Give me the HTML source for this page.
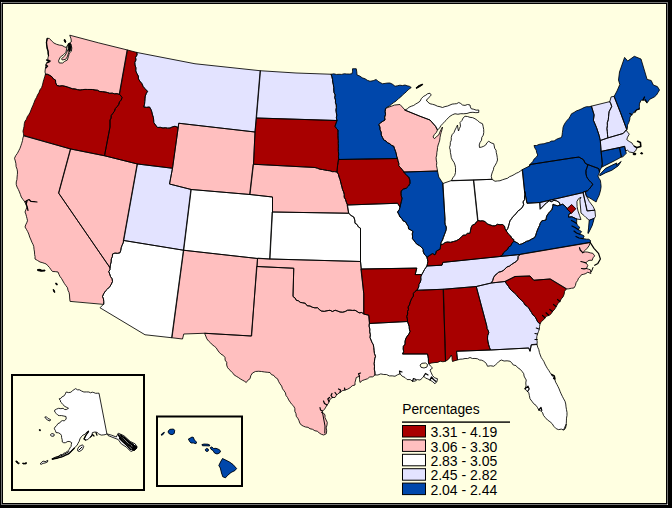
<!DOCTYPE html>
<html><head><meta charset="utf-8"><title>Percentages by state</title>
<style>
html,body{margin:0;padding:0;background:#000;}
body{width:672px;height:508px;overflow:hidden;position:relative;font-family:"Liberation Sans",sans-serif;}
svg{position:absolute;left:0;top:0;display:block;}
.lg{position:absolute;font-size:14px;line-height:14px;color:#000;white-space:nowrap;}
</style></head><body>
<svg width="672" height="508" viewBox="0 0 672 508">
<rect x="0" y="0" width="672" height="508" fill="#000"/>
<rect x="1" y="2" width="667" height="503" fill="#757575"/>
<rect x="1" y="2" width="1" height="1" fill="#cfcfcf"/><rect x="667" y="504" width="1" height="1" fill="#cfcfcf"/>
<rect x="2" y="3" width="665" height="501" fill="#000"/>
<rect x="3" y="4" width="663" height="499" fill="#FFFFE1"/>
<g>
<g stroke="none">
<polygon fill="#FFBFBF" points="45.5,74 45,72.03 45.2,70 45.6,67.2 46.27,65.15 46.4,63 49.5,62.2 50.5,60.8 47.7,59.7 48.03,57.59 48.5,55.5 48.04,53.42 48.1,51.3 47.07,48.9 46.8,46.3 46.43,44.27 46.4,42.2 47.25,38.4 49.3,38.4 50.79,39.98 52.29,41.54 53.9,43 56.51,44.28 59.3,45.1 61.98,45.39 64.3,46.75 66.4,47.6 67.5,45.5 69.3,43 71.4,41.75 71,38.8 69.75,35.2 98.75,42.9 127.5,50 119.5,94.5 117.16,93.64 114.64,93.81 112.27,93.16 109.75,93.3 107.4,92.49 105,92 102.47,91.67 99.89,91.57 97.55,90.25 95,90 92.5,89.5 90,89.48 87.5,89.47 85,89.41 82.5,89.66 80,90 77.49,89.64 75.03,88.96 72.5,88.75 69.99,87.91 67.5,87 64.92,86.28 62.32,85.73 59.6,86.05 57,85.5 55.68,82.91 55.5,80 53.36,78.88 51.99,76.81 50,75.5 47.85,74.45"/>
<polygon fill="#A80000" points="23.75,135.5 23.42,133.37 23,131.25 23.54,128.76 24.08,126.27 24.31,123.71 25,121.25 26.49,119.2 27.27,116.74 28.75,114.69 30,112.5 31.03,109.98 32,107.44 33.17,104.98 34.12,102.43 35.08,99.88 36.46,97.51 37.5,95 38.98,92.62 39.91,89.96 41.54,87.65 42.5,85 43.08,82.2 43.86,79.46 44.73,76.75 45.5,74 47.85,74.45 50,75.5 51.99,76.81 53.36,78.88 55.5,80 55.68,82.91 57,85.5 59.6,86.05 62.32,85.73 64.92,86.28 67.5,87 69.99,87.91 72.5,88.75 75.03,88.96 77.49,89.64 80,90 82.5,89.66 85,89.41 87.5,89.47 90,89.48 92.5,89.5 95,90 97.55,90.25 99.89,91.57 102.47,91.67 105,92 107.4,92.49 109.75,93.3 112.27,93.16 114.64,93.81 117.16,93.64 119.5,94.5 120.99,95.8 122,97.5 121.25,100 119.51,101.79 118.85,104.23 117.5,106.25 115.42,108.47 114.36,111.38 112.5,113.75 111.22,115.65 111.13,118.04 110,120 110,127 104.5,155.75 70.75,149"/>
<polygon fill="#FFBFBF" points="70,301 69.67,298.01 69.5,295 69.07,292.52 67.98,290.22 67.5,287.75 65.86,285.59 64.3,283.38 62.95,281.03 61.64,278.66 60,276.5 58.93,274.28 58,272 55.26,271.63 52.5,271.5 50.94,269.63 49.55,267.6 47.9,265.8 46.25,264 44.19,263.26 42.12,262.55 40,262 37.52,260.47 35,259 35.05,256.65 34.6,254.34 34.5,252 34.03,249.26 33.75,246.5 32.96,244.28 31.86,242.19 31,240 29.71,237.06 28.75,234 27.66,231.58 26.37,229.27 25,227 25.7,224.87 26.7,222.84 27.5,220.75 27.02,218.52 26.45,216.32 25.86,214.12 25,212 25.97,209.49 27,207 25.93,204.53 25,202 23.03,199.57 21.25,197 20.38,194.45 19.42,191.93 18.34,189.46 17.05,187.08 16.25,184.5 16.25,181.98 16.95,179.52 17.08,177.01 17.36,174.51 17.5,172 17.09,169.21 16.08,166.55 15.92,163.7 15.3,160.96 14.5,158.25 15.71,155.66 17.4,153.33 18.71,150.8 20,148.25 20.9,145.74 21.74,143.22 22.47,140.66 22.92,138.03 23.75,135.5 70.75,149 58.75,193.25 110,267.75 109.95,269.82 108.75,271.5 109.69,274 110.51,276.54 112.11,278.8 112.5,281.5 111.25,284.28 109.68,286.84 107.5,289 105.33,291.16 103.71,293.69 102.5,296.5 103.47,298.91 103.75,301.43 103.75,304"/>
<polygon fill="#FFBFBF" points="70.75,149 104.5,155.75 137.5,164 123.75,240.5 123.14,242.99 122.05,245.34 121.21,247.76 120.78,250.31 120,252.75 117.53,253.34 114.92,253.12 112.5,254 112.36,256.62 111.25,259 111.19,261.97 110.39,264.83 110,267.75 58.75,193.25"/>
<polygon fill="#A80000" points="127.5,50 137,52.5 136.97,55.06 135.55,57.4 135.94,60.02 134.82,62.41 135,65 135.93,67.86 135.78,70.96 137,73.75 138.35,76.11 138.44,78.97 140,81.25 141.88,83.61 143.09,86.41 145,88.75 147.5,91.25 146.24,93.61 145.27,96.06 145,98.75 144.77,101.53 144.53,104.3 143.75,107 146.62,107.36 149.5,107 150.97,109.49 151.9,112.18 152.5,115 153.4,117.42 153.65,119.95 153.75,122.5 155.56,125.05 157.5,127.5 160.29,127.32 163,128 165.33,127.69 167.67,128.16 170,128 172.42,126.89 175,126.25 178.2,127.5 172.5,168.25 137.5,164 104.5,155.75 110,127 110,120 111.13,118.04 111.22,115.65 112.5,113.75 114.36,111.38 115.42,108.47 117.5,106.25 118.85,104.23 119.51,101.79 121.25,100 122,97.5 120.99,95.8 119.5,94.5"/>
<polygon fill="#E3E3FF" points="137,52.5 195,63.75 260.5,70.75 256.5,118 255,132 178.75,123.25 178.2,127.5 175,126.25 172.42,126.89 170,128 167.67,128.16 165.33,127.69 163,128 160.29,127.32 157.5,127.5 155.56,125.05 153.75,122.5 153.65,119.95 153.4,117.42 152.5,115 151.9,112.18 150.97,109.49 149.5,107 146.62,107.36 143.75,107 144.53,104.3 144.77,101.53 145,98.75 145.27,96.06 146.24,93.61 147.5,91.25 145,88.75 143.09,86.41 141.88,83.61 140,81.25 138.44,78.97 138.35,76.11 137,73.75 135.78,70.96 135.93,67.86 135,65 134.82,62.41 135.94,60.02 135.55,57.4 136.97,55.06"/>
<polygon fill="#E3E3FF" points="260.5,70.75 296,73 331.25,74.25 331.9,76.87 332.55,79.49 332.72,82.21 333.36,84.83 333.75,87.5 333.78,90.05 334.01,92.56 335.2,94.94 334.68,97.57 335.5,100 335.43,102.51 336.27,104.97 336.39,107.47 335.93,110.01 336.25,112.5 336.78,115.14 336.33,117.87 337,120.5 256.5,118"/>
<polygon fill="#A80000" points="256.5,118 337,120.5 336.01,123.38 335,126.25 336.27,128.31 338,130 337.97,132.68 337.96,135.37 338.05,138.05 338.33,140.73 338.28,143.41 338.4,146.09 338.32,148.78 338.39,151.46 338.63,154.14 338.44,156.82 338.75,159.5 337.5,166 337,172 334.66,171.62 332.25,171.64 330,170.75 327.47,170.5 324.98,170.06 322.5,169.5 319.91,169.24 317.5,168.25 315,167.5 253.5,164.25 255,132"/>
<polygon fill="#FFBFBF" points="178.2,127.5 178.75,123.25 255,132 253.5,164.25 250,194.5 191.25,189.5 169.5,184 172.5,168.25"/>
<polygon fill="#E3E3FF" points="137.5,164 172.5,168.25 169.5,184 191.25,189.5 183.75,250.25 123.75,240.5"/>
<polygon fill="#FFFFFF" points="191.25,189.5 250,194.5 272.5,197 272.5,212 270,259 257.5,258.5 183.75,250.25"/>
<polygon fill="#FFFFFF" points="123.75,240.5 183.75,250.25 172,337.75 145,334.75 100,307.75 103.75,304 103.75,301.43 103.47,298.91 102.5,296.5 103.71,293.69 105.33,291.16 107.5,289 109.68,286.84 111.25,284.28 112.5,281.5 112.11,278.8 110.51,276.54 109.69,274 108.75,271.5 109.95,269.82 110,267.75 110.39,264.83 111.19,261.97 111.25,259 112.36,256.62 112.5,254 114.92,253.12 117.53,253.34 120,252.75 120.78,250.31 121.21,247.76 122.05,245.34 123.14,242.99"/>
<polygon fill="#FFBFBF" points="183.75,250.25 257.5,258.5 257,266.5 251.25,336 204.5,333.25 183.75,334 182.5,339 172,337.75"/>
<polygon fill="#FFBFBF" points="257,266.5 293.75,268.25 293,296.5 295.09,297.97 296.25,300.25 298.44,300.81 300.24,302.35 302.5,302.75 305.25,303.26 307.14,305.74 310,306 312.35,307.24 314.85,307.83 317.5,307.75 319.29,309.47 321.25,311 324.22,311.36 327.1,310.74 330,310.25 332.36,311.5 335.15,310.25 337.59,311.02 340,312 342.68,312.21 345.16,311.52 347.5,310.25 350,310.15 352.5,310.45 355,310.25 357.07,311.46 359.07,312.85 361.79,312.53 363.75,314 368.75,315.25 369.5,323.5 369.15,326.32 369.84,329.09 369.71,331.9 370.38,334.68 370,337.5 371.01,339.97 372.03,342.44 373.35,344.8 373.75,347.5 374.08,350.47 374.43,353.43 375.5,356.25 374.73,358.7 374.47,361.2 374.16,363.69 374.5,366.25 374.33,369.19 374.89,372.08 375,375 372.77,376.8 369.74,376.98 367.5,378.75 364.82,379.65 362.18,380.6 360,382.5 359.47,379.4 359.5,376.25 356.25,377.5 355.66,379.97 355.02,382.43 355,385 352.24,385.72 350.12,387.73 347.7,389.15 345,390 342.23,390.71 340,392.5 337.92,393.75 336.3,395.47 335,397.5 332.5,397.5 330.4,398.84 329.33,400.94 328.49,403.21 327,405 325.84,407.09 324.6,409.11 322.96,410.83 321.25,412.5 323.56,413.1 325,415 325,417.6 326.08,419.98 327.27,422.35 327,425 326.19,427.87 326.7,430.85 326.25,433.75 323.75,435 321.35,434.27 319.25,433.06 317.5,431.25 314.88,430.78 312.59,429.32 310,428.75 308.02,427.32 305.56,427.03 303.35,426.15 301.25,425 299.74,422.96 298.92,420.53 297.77,418.28 296.25,416.25 295.97,413.66 294.84,411.29 294.86,408.63 293.75,406.25 291.77,404.36 290.22,402.16 288.7,399.95 287.5,397.5 285.97,395.47 285.45,392.87 284.01,390.79 282.5,388.75 281.63,386.06 279.93,383.78 278.55,381.35 277.5,378.75 275.36,377.51 273.87,375.48 271.43,374.6 270,372.5 267.18,372.25 264.37,371.95 261.57,371.52 258.75,371.25 255.45,371.49 252.5,373 250.79,375.67 250,378.75 247.81,380.31 246.25,382.5 244.32,381.14 242.24,380.02 240.21,378.82 238.29,377.44 236.25,376.25 234.1,374.9 232.64,372.86 230.9,371.1 229.08,369.42 227.5,367.5 226.69,365.05 226.74,362.38 225.12,360.13 225,357.5 223.31,355.44 220.93,354.07 219.09,352.16 217.5,350 216.2,347.8 214.29,346.21 212.25,344.75 210.64,342.86 208.75,341.25 206.84,338.85 205.74,336.01 204.5,333.25 251.25,336"/>
<polygon fill="#FFBFBF" points="270,259 360.5,261.5 361.25,269 363.75,294 363.75,314 361.79,312.53 359.07,312.85 357.07,311.46 355,310.25 352.5,310.45 350,310.15 347.5,310.25 345.16,311.52 342.68,312.21 340,312 337.59,311.02 335.15,310.25 332.36,311.5 330,310.25 327.1,310.74 324.22,311.36 321.25,311 319.29,309.47 317.5,307.75 314.85,307.83 312.35,307.24 310,306 307.14,305.74 305.25,303.26 302.5,302.75 300.24,302.35 298.44,300.81 296.25,300.25 295.09,297.97 293,296.5 293.75,268.25 257,266.5 257.5,258.5"/>
<polygon fill="#FFFFFF" points="272.5,212 348.75,213.25 350.99,215.48 353.75,217 354.77,220.05 355,223.25 357.14,224.58 358.37,226.91 360.5,228.25 360.5,261.5 270,259"/>
<polygon fill="#FFBFBF" points="253.5,164.25 315,167.5 317.5,168.25 319.91,169.24 322.5,169.5 324.98,170.06 327.47,170.5 330,170.75 332.25,171.64 334.66,171.62 337,172 338.41,174.33 339.05,176.98 340,179.5 340.65,181.99 341.25,184.5 341.95,186.98 342.5,189.5 343.62,191.89 344.24,194.43 344.19,197.17 345.5,199.5 346.36,202.3 347.5,205 348.75,213.25 272.5,212 272.5,197 250,194.5"/>
<polygon fill="#A80000" points="338.75,159.5 397.5,158.5 397.96,160.91 398.8,163.25 398.75,165.75 400.63,167.72 402.36,169.82 404,172 405.32,173.92 406.82,175.66 408.75,177 409.84,180.03 410,183.25 408.54,186.06 406.25,188.25 403.52,189.03 401.25,190.75 401.07,193.29 401.25,195.8 402,198.25 401.44,201.19 400.66,204.08 400,207 397.5,203.25 347.5,205 346.36,202.3 345.5,199.5 344.19,197.17 344.24,194.43 343.62,191.89 342.5,189.5 341.95,186.98 341.25,184.5 340.65,181.99 340,179.5 339.05,176.98 338.41,174.33 337,172 337.5,166"/>
<polygon fill="#FFFFFF" points="347.5,205 397.5,203.25 400,207 399.25,209.75 397.5,212 398.87,214.44 400,217 401.85,218.58 403.03,220.8 405.49,221.8 406.7,224 408.23,226.28 408.6,229 410.96,230.04 413,231.6 412.23,233.85 412.56,236.2 412.4,238.5 413.83,240.43 415.3,242.32 416.8,244.2 419.21,245.48 421.35,247.09 423.1,249.2 423.24,251.81 424.3,254.2 425.79,255.68 427,257.4 427.51,259.43 427.8,261.5 427.45,263.76 427,266 425.76,267.76 424.5,269.5 423.2,272.03 421.8,274.5 415.2,274.6 416.8,268.1 361.25,269 360.5,261.5 360.5,228.25 358.37,226.91 357.14,224.58 355,223.25 354.77,220.05 353.75,217 350.99,215.48 348.75,213.25"/>
<polygon fill="#A80000" points="361.25,269 416.8,268.1 415.2,274.6 421.8,274.5 420.76,276.9 420.95,279.6 420.33,282.1 418.94,284.4 418.7,287 417,290.25 415,291.5 413.36,293.47 413.4,296.18 411.89,298.2 410.85,300.43 410,302.75 409.44,304.96 408.12,306.95 408.49,309.42 407.5,311.5 407.67,314 406.76,316.5 407.36,319 407.5,321.5 369.5,323.5 368.75,315.25 363.75,314 363.75,294"/>
<polygon fill="#FFFFFF" points="369.5,323.5 407.5,321.5 408.34,323.95 409.16,326.4 409.33,329.01 410,331.5 408.89,334.07 407.09,336.3 405.7,338.72 405,341.5 405.05,344.11 403.35,346.37 403.2,348.94 403.65,351.63 402.5,354 427.5,354 427.97,356.42 428.42,358.84 428.41,361.32 428.75,363.75 430.44,366.04 432.5,368 430,370 431.24,372.75 432.5,375.5 434.59,377.76 437.5,378.75 436.88,381.57 435,383.75 432.64,381.69 430,380 427.8,378.95 425.49,378.08 423.75,376.25 422.08,378.33 420,380 417.37,379.62 415.04,381.08 412.5,381.25 410.22,379.57 407.08,379.58 405,377.5 402.1,376.16 400,373.75 397.42,374.84 395,376.25 392.18,375.87 389.29,375.9 386.62,374.56 383.75,374.5 380.79,373.9 377.92,374.97 375,375 374.89,372.08 374.33,369.19 374.5,366.25 374.16,363.69 374.47,361.2 374.73,358.7 375.5,356.25 374.43,353.43 374.08,350.47 373.75,347.5 373.35,344.8 372.03,342.44 371.01,339.97 370,337.5 370.38,334.68 369.71,331.9 369.84,329.09 369.15,326.32"/>
<polygon fill="#A80000" points="417,290.25 443.5,289.25 445,344 445.5,361.25 442.9,361.75 440.17,361.19 437.65,362.42 435,362.5 431.84,362.96 428.75,363.75 428.41,361.32 428.42,358.84 427.97,356.42 427.5,354 402.5,354 403.65,351.63 403.2,348.94 403.35,346.37 405.05,344.11 405,341.5 405.7,338.72 407.09,336.3 408.89,334.07 410,331.5 409.33,329.01 409.16,326.4 408.34,323.95 407.5,321.5 407.36,319 406.76,316.5 407.67,314 407.5,311.5 408.49,309.42 408.12,306.95 409.44,304.96 410,302.75 410.85,300.43 411.89,298.2 413.4,296.18 413.36,293.47 415,291.5"/>
<polygon fill="#A80000" points="443.5,289.25 476.25,286.5 486.25,324 486.81,326.21 487.05,328.5 488.24,330.53 488.75,332.75 487.64,335.78 487.5,339 488.03,341.81 488.6,344.61 489.48,347.32 490.5,350 456.5,351.25 457.5,360 454.96,360.63 452.5,361.5 452.09,359.33 452.04,357.1 451.25,355 449.5,358 447.72,359.9 445.5,361.25 445,344"/>
<polygon fill="#E3E3FF" points="427,266 442,265.2 442.9,262.4 500,256.5 520,254.5 518.14,256.51 517.88,259.37 516.25,261.5 513.93,262.9 511.66,264.37 509.54,266.05 506.89,266.96 505,269 503.2,270.57 501.09,271.64 498.61,272.12 496.93,273.88 495,275.25 493.5,277.71 492.71,280.52 491.25,283 476.25,286.5 443.5,289.25 417,290.25 418.7,287 418.94,284.4 420.33,282.1 420.95,279.6 420.76,276.9 421.8,274.5 423.2,272.03 424.5,269.5 425.76,267.76"/>
<polygon fill="#A80000" points="427,257.4 429.4,255.5 432.5,253.6 435,254.9 435.86,253.07 436.3,251.1 438.17,250.09 440.1,249.2 440.45,247.01 440.7,244.8 443.09,244.16 445.07,242.55 447.5,242 450.52,242.33 453.39,241.55 456.25,240.75 459,239.21 461.25,237 463.11,235.3 465.58,235.03 467.46,233.37 470,233.25 470.55,230.11 471.25,227 472.55,224.98 475.01,224.15 476.25,222.06 478,220.5 480.23,220.94 482.5,220.75 485.19,221.62 487.16,223.92 489.83,224.84 492.5,225.75 495.05,225.85 497.4,224.31 499.99,224.71 502.5,224.5 504.51,226.13 505.07,228.63 506.25,230.75 507.55,232.59 508.75,234.5 510.64,235.94 511.69,238.22 513.75,239.5 513.8,241.3 512.03,243.2 510.91,245.6 508.61,247.09 507.5,249.5 505.42,251.03 503.53,252.76 502.31,255.22 500,256.5 442.9,262.4 442,265.2 427,266 427.45,263.76 427.8,261.5 427.51,259.43"/>
<polygon fill="#0047AB" points="404,172 437.5,171 438.75,177 443,183.5 445,219.5 444.89,222.05 445.19,224.55 446.28,226.96 446.25,229.5 445.38,232.15 444.39,234.75 443.41,237.36 442.5,240 441.2,242.25 440.7,244.8 440.45,247.01 440.1,249.2 438.17,250.09 436.3,251.1 435.86,253.07 435,254.9 432.5,253.6 429.4,255.5 427,257.4 425.79,255.68 424.3,254.2 423.24,251.81 423.1,249.2 421.35,247.09 419.21,245.48 416.8,244.2 415.3,242.32 413.83,240.43 412.4,238.5 412.56,236.2 412.23,233.85 413,231.6 410.96,230.04 408.6,229 408.23,226.28 406.7,224 405.49,221.8 403.03,220.8 401.85,218.58 400,217 398.87,214.44 397.5,212 399.25,209.75 400,207 400.66,204.08 401.44,201.19 402,198.25 401.25,195.8 401.07,193.29 401.25,190.75 403.52,189.03 406.25,188.25 408.54,186.06 410,183.25 409.84,180.03 408.75,177 406.82,175.66 405.32,173.92"/>
<polygon fill="#FFFFFF" points="443,183.5 451.5,180.5 473.75,180 478,220.5 476.25,222.06 475.01,224.15 472.55,224.98 471.25,227 470.55,230.11 470,233.25 467.46,233.37 465.58,235.03 463.11,235.3 461.25,237 459,239.21 456.25,240.75 453.39,241.55 450.52,242.33 447.5,242 445.07,242.55 443.09,244.16 440.7,244.8 441.2,242.25 442.5,240 443.41,237.36 444.39,234.75 445.38,232.15 446.25,229.5 446.28,226.96 445.19,224.55 444.89,222.05 445,219.5"/>
<polygon fill="#FFFFFF" points="473.75,180 492,179.3 495,181.25 497.49,180.94 500,180.75 502.46,179.79 504.97,178.98 507.5,178.25 509.51,176.69 511.88,175.76 514.12,174.6 516.25,173.25 518.54,172.34 520.54,170.95 522.5,169.5 524.5,190.75 525.1,193.88 524.5,197 524.54,199.61 523.05,201.91 523.64,204.63 522.5,207 520.58,209.24 518.04,210.88 516.25,213.25 514.71,215.14 512.81,216.74 511.48,218.81 510,220.75 509.27,223.33 508.6,225.93 507.78,228.47 506.25,230.75 505.07,228.63 504.51,226.13 502.5,224.5 499.99,224.71 497.4,224.31 495.05,225.85 492.5,225.75 489.83,224.84 487.16,223.92 485.19,221.62 482.5,220.75 480.23,220.94 478,220.5"/>
<polygon fill="#FFFFFF" points="451.5,180.5 452.82,177.83 454.69,175.43 455.5,172.5 455.53,169.99 455.53,167.48 455,165 454.02,162.37 452.39,160.05 451.25,157.5 450.93,154.98 450.4,152.5 450.26,149.94 449.5,147.5 450.25,145.05 450.33,142.49 451.29,140.08 451.25,137.5 452.01,134.76 453.96,132.6 455,130 456.29,127.52 457.5,125 457.85,128.02 458.5,131 459.36,128.57 460.5,126.25 460,122.5 461.9,120.6 463.03,118.09 465,116.25 467.59,116.53 470.03,117.37 472.62,117.65 475,118.75 477.47,120.46 479.73,122.48 482.5,123.75 483.17,126.63 483.69,129.53 483.75,132.5 483.27,135.17 481.78,137.46 481.5,140.21 480,142.5 479.22,144.95 479.5,147.5 481.68,147.05 483.75,146.25 485.78,144.95 486.94,142.78 488.75,141.25 491.07,142.86 493.75,143.75 494.23,145.98 494.65,148.23 496.05,150.19 496.25,152.5 496.85,154.97 497.24,157.47 497.5,160 496.59,162.67 495.25,165.12 493.75,167.5 493.45,169.78 492.48,171.87 491.78,174.03 491.25,176.25 492,179.3 473.75,180"/>
<polygon fill="#FFFFFF" points="405,110 407.19,108.93 409.02,107.26 411.25,106.25 413.69,105.43 415.75,103.97 417.95,102.74 420,101.25 421.43,98.42 423.75,96.25 425.8,95.19 427.66,93.72 430,93.25 431.25,95 429.62,96.7 428.18,98.59 426.25,100 427.86,102.14 430,103.75 432.52,104.31 435,105 437.38,106.2 439.99,106.71 442.5,107.5 444.97,106.59 447.57,106.05 450,105 452.11,104.11 454.41,103.88 456.71,103.65 458.75,102.5 460.77,103.53 462.5,105 465,105.42 467.5,104.49 470,105 470.36,106.96 471.25,108.75 473.73,109.26 476.16,110.15 478.75,110 478.75,112.5 475.83,112.66 472.92,112.3 470,112.5 466.95,113.48 463.75,113.75 460.83,113.7 457.92,114.26 455,113.75 452.39,114.79 450,116.25 448.22,117.81 446.68,119.6 445,121.25 443.04,123.42 441,125.5 439.54,127.98 437.5,130 435.5,126.25 430,120 420,116.25"/>
<polygon fill="#FFBFBF" points="385.5,108.75 385.16,111.55 385.53,114.39 384.63,117.17 385,120 382.77,121.29 380.67,122.77 378.75,124.5 379.91,127 380.07,129.73 381.2,132.24 381.25,135 382.55,137.48 383.75,140 385.95,140.94 387.55,142.81 389.78,143.7 391.54,145.33 393.75,146.25 394.54,148.76 395.49,151.22 396.25,153.75 396.65,156.18 397.5,158.5 397.96,160.91 398.8,163.25 398.75,165.75 400.63,167.72 402.36,169.82 404,172 437.5,171 437.07,168.26 436.48,165.54 436.77,162.73 436.25,160 436.1,157.46 436.73,155 436.83,152.48 437.34,150.01 437.5,147.5 438.14,145 439,142.56 439.73,140.09 440,137.5 440.51,134.85 441.2,132.24 442,129.65 442.5,127 441.08,129.59 439.77,132.23 438.75,135 436.41,136.63 434.5,138.75 433,137 434.34,134.57 436.31,132.53 437.5,130 435.5,126.25 430,120 420,116.25 405,110 400,104.5 395,105"/>
<polygon fill="#0047AB" points="331.25,74.25 333.84,73.85 336.45,74.45 339.04,74.28 341.63,74.4 344.21,73.78 346.81,73.97 349.41,74.04 352,73.75 352.58,71.28 352.5,68.75 356.25,68.75 356.77,71.86 357,75 359.77,76.03 362.19,77.8 365,78.75 367.35,80.29 370,81.25 373.2,80.65 376.25,79.5 378.05,81.33 380.25,82.57 382.5,83.75 384.99,83.42 387.48,83.06 390,83 392.68,84.35 395,86.25 397.48,85.75 399.95,85.2 402.54,85.59 405,85 407.1,85.79 409.33,86.26 411.25,87.5 408.89,89.18 406.86,91.23 404.75,93.2 402.5,95 400.56,97.17 398.23,98.87 396.19,100.92 393.75,102.5 391.71,104.09 389.77,105.81 387.4,106.98 385.5,108.75 385.16,111.55 385.53,114.39 384.63,117.17 385,120 382.77,121.29 380.67,122.77 378.75,124.5 379.91,127 380.07,129.73 381.2,132.24 381.25,135 382.55,137.48 383.75,140 385.95,140.94 387.55,142.81 389.78,143.7 391.54,145.33 393.75,146.25 394.54,148.76 395.49,151.22 396.25,153.75 396.65,156.18 397.5,158.5 338.75,159.5 338.44,156.82 338.63,154.14 338.39,151.46 338.32,148.78 338.4,146.09 338.28,143.41 338.33,140.73 338.05,138.05 337.96,135.37 337.97,132.68 338,130 336.27,128.31 335,126.25 336.01,123.38 337,120.5 336.33,117.87 336.78,115.14 336.25,112.5 335.93,110.01 336.39,107.47 336.27,104.97 335.43,102.51 335.5,100 334.68,97.57 335.2,94.94 334.01,92.56 333.78,90.05 333.75,87.5 333.36,84.83 332.72,82.21 332.55,79.49 331.9,76.87"/>
<polygon fill="#0047AB" points="522.5,169.5 529.5,166 530,164.5 574,157.7 579,157.1 583.4,159.6 585.3,163.4 587.9,164.6 587.04,167.48 586,170.3 585.96,173.48 586.6,176.6 587.84,178.77 589.44,180.66 591.08,182.51 592.9,184.2 591.08,186.76 589.1,189.2 587.49,190.73 585.4,191.5 582.9,192.6 539.75,202.5 527,203.25 524.5,190.75"/>
<polygon fill="#0047AB" points="529.5,166 530.82,163.56 532.75,161.56 534.05,159.1 536.22,157.29 537.75,155 536.68,152.68 536.23,150.11 534.81,147.93 534,145.5 536.6,145.49 538.99,144.44 541.49,143.95 544.05,143.77 546.47,142.86 549,142.5 551.33,141.08 554.16,140.91 556.45,139.36 558.91,138.28 561.5,137.5 562.12,135.02 562.4,132.48 562.8,129.96 563.02,127.4 564,125 565.34,122.64 566.98,120.49 568.86,118.49 570.27,116.18 571.5,113.75 574,112.5 576.32,110.9 579,110 581.52,108.84 584,107.6 586.45,106.67 589.09,106.74 591.6,106.1 594.1,115.2 593.4,120.2 596.6,127.8 599.1,135.3 600.3,140.5 601.1,151.4 602.3,164 601.7,167.2 600,170 599.5,172 598.5,168.5 587.9,164.6 585.3,163.4 583.4,159.6 579,157.1 574,157.7 530,164.5"/>
<polygon fill="#0047AB" points="599.5,172 598.92,174.09 597.9,176 598.99,178.29 600.4,180.4 600.8,183.54 601.1,186.7 600.62,189.89 599.8,193 599.12,195.35 598.06,197.54 596.99,199.73 596.1,202 594.2,200.8 591.73,199.27 589.28,197.72 586.7,196.4 585.69,194.05 585.4,191.5 587.49,190.73 589.1,189.2 591.08,186.76 592.9,184.2 591.08,182.51 589.44,180.66 587.84,178.77 586.6,176.6 585.96,173.48 586,170.3 587.04,167.48 587.9,164.6 598.5,168.5"/>
<polygon fill="#E3E3FF" points="585.4,191.5 586,195 589.2,201.4 593,206.4 594.9,210.2 587.3,210.9 582.9,192.6"/>
<polygon fill="#E3E3FF" points="582.9,192.6 539.75,202.5 540.2,209.2 543.5,205.8 546.8,202.5 549.3,200.8 551.4,201.7 553.9,200.4 556.5,200.8 559.3,202.5 560.2,205 562.7,204.2 564.75,205.8 567.25,208.5 571.4,212.9 568.9,214.2 568.5,217.1 571.8,216.7 575.2,218.3 576.6,219 581,219.6 579.6,215.5 578,211 577.1,206.7 576.9,201.5 578.6,198.6 581,197.3 579.9,199.5 580.1,203 580.5,207 581,213 584.3,215.8 586,217.5 588,219.2 589.2,220.3 594.2,218.4 595.5,216.5 594.9,210.2 587.3,210.9"/>
<polygon fill="#0047AB" points="576.6,219 576.74,221.2 576.6,223.4 577.72,225.65 579.7,227.2 578.5,229.7 581.6,231.6 579.7,234.2 582.04,234.87 584.2,236 582.9,238.6 586.7,239.2 588.79,239.28 590.5,240.5 590.3,242.6 520,254.5 500,256.5 502.31,255.22 503.53,252.76 505.42,251.03 507.5,249.5 508.61,247.09 510.91,245.6 512.03,243.2 513.8,241.3 515.87,242.07 517.75,243.16 519.5,244.5 521.84,243.89 524,242.8 526.3,241.41 528.9,240.7 531.69,239.04 534.6,237.6 535.77,235.13 536.5,232.5 537.48,229.99 538.5,227.5 539.57,225.49 540.2,223.3 541.8,220.8 543.91,220.46 546,220 546.28,217.88 546.8,215.8 548.5,213.3 549.95,211.45 551.8,210 552.7,206.7 553,204.2 554.75,205 557.7,205.8 560.2,205 562.7,204.2 564.75,205.8 567.25,208.5 571.4,212.9 568.9,214.2 568.5,217.1 571.8,216.7 575.2,218.3"/>
<polygon fill="#FFFFFF" points="506.25,230.75 507.78,228.47 508.6,225.93 509.27,223.33 510,220.75 511.48,218.81 512.81,216.74 514.71,215.14 516.25,213.25 518.04,210.88 520.58,209.24 522.5,207 523.64,204.63 523.05,201.91 524.54,199.61 524.5,197 525.1,193.88 524.5,190.75 527,203.25 539.75,202.5 540.2,209.2 543.5,205.8 546.8,202.5 549.3,200.8 551.4,201.7 553.9,200.4 556.5,200.8 559.3,202.5 560.2,205 557.7,205.8 554.75,205 553,204.2 552.7,206.7 551.8,210 549.95,211.45 548.5,213.3 546.8,215.8 546.28,217.88 546,220 543.91,220.46 541.8,220.8 540.2,223.3 539.57,225.49 538.5,227.5 537.48,229.99 536.5,232.5 535.77,235.13 534.6,237.6 531.69,239.04 528.9,240.7 526.3,241.41 524,242.8 521.84,243.89 519.5,244.5 517.75,243.16 515.87,242.07 513.8,241.3 513.75,239.5 511.69,238.22 510.64,235.94 508.75,234.5 507.55,232.59"/>
<polygon fill="#FFBFBF" points="590.3,242.6 589,245.8 587.31,248.14 585.3,250.2 582.7,252.7 585.2,251.93 587.8,252.1 590.26,252.87 592.8,253.3 594.7,255.9 593.01,257.85 592.2,260.3 589.95,260.22 587.8,260.9 585.9,262.8 587.8,265.3 586.5,268.5 588.38,269.16 590.3,269.7 590.9,273.5 587.8,272.2 585.89,273.51 583.76,274.26 581.5,274.7 580.22,276.59 578.5,278.19 577.7,280.4 576.04,282.74 575.42,285.59 573.9,288 571.34,288.26 568.82,288.81 566.25,289 550,279 533.75,280.25 530,276 515,276.5 505,281.5 491.25,283 492.71,280.52 493.5,277.71 495,275.25 496.93,273.88 498.61,272.12 501.09,271.64 503.2,270.57 505,269 506.89,266.96 509.54,266.05 511.66,264.37 513.93,262.9 516.25,261.5 517.88,259.37 518.14,256.51 520,254.5"/>
<polygon fill="#A80000" points="566.25,289 564.59,291.3 564.13,294.19 563.11,296.81 561.21,298.98 560,301.5 558.04,303.16 556.87,305.41 555.66,307.62 554.34,309.76 552.5,311.5 551.17,313.71 549.33,315.32 546.8,316.1 545,317.75 543.44,319.92 541.29,321.61 540,324 537.65,321.85 536.25,319 535.01,316.58 532.8,314.86 531.47,312.51 530,310.25 528.71,308.04 526.99,306.21 524.84,304.77 523.66,302.46 521.87,300.7 520,299 517.98,297.02 516.31,294.69 514.19,292.81 512.02,290.98 510,289 508.46,286.41 506.63,284.03 505,281.5 515,276.5 530,276 533.75,280.25 550,279"/>
<polygon fill="#E3E3FF" points="540,324 539.53,326.54 539.37,329.15 538.48,331.59 537.5,334 536.8,336.6 536.68,339.22 537.24,341.88 537,344.5 531.25,345 530,351.25 528.75,348 490.5,350 489.48,347.32 488.6,344.61 488.03,341.81 487.5,339 487.64,335.78 488.75,332.75 488.24,330.53 487.05,328.5 486.81,326.21 486.25,324 476.25,286.5 491.25,283 505,281.5 506.63,284.03 508.46,286.41 510,289 512.02,290.98 514.19,292.81 516.31,294.69 517.98,297.02 520,299 521.87,300.7 523.66,302.46 524.84,304.77 526.99,306.21 528.71,308.04 530,310.25 531.47,312.51 532.8,314.86 535.01,316.58 536.25,319 537.65,321.85"/>
<polygon fill="#FFFFFF" points="537,344.5 537.71,347.15 538.84,349.65 539.35,352.37 540.24,354.95 541.25,357.5 542.63,359.57 543.96,361.66 544.91,363.98 546.1,366.16 547.3,368.33 548.74,370.36 550,372.5 551.88,375 553.75,377.5 554.87,379.76 555.65,382.17 556.89,384.37 558.03,386.62 559.12,388.88 560,391.25 561.11,393.82 562.33,396.34 563.61,398.82 565,401.25 565.74,404.02 566.02,406.87 566.49,409.69 567,412.5 567.01,415.33 566.51,418.12 566.42,420.94 566.25,423.75 565.42,425.84 564.45,427.86 563.75,430 561.33,429.11 558.67,429.64 556.25,428.75 553.75,426.25 552.15,423.68 549.97,421.69 547.5,420 545.44,417.76 543.53,415.43 542.5,412.5 540.81,410.97 538.75,410 537.51,407.57 536,405.37 533.75,403.75 531.91,401.23 530,398.75 529.37,395.63 528.75,392.5 526.67,390.83 525,388.75 526.06,385.92 525.77,382.91 526.25,380 525.05,378.06 524.05,376.05 523.75,373.75 522.01,371.32 520.02,369.15 517.5,367.5 515.94,365.56 513.24,364.98 511.83,362.87 510,361.25 507.09,360.81 504.08,361.03 501.25,360 499.13,361.27 497.46,363.07 495.63,364.7 493.75,366.25 490.62,365.77 487.5,366.25 486.23,363.3 483.75,361.25 481.75,360.22 479.43,359.97 477.5,358.75 474.98,358.45 472.4,358.52 470,357.5 467.61,358.56 465,358.5 462.52,359.09 459.94,359.19 457.5,360 456.5,351.25 490.5,350 528.75,348 530,351.25 531.25,345"/>
<polygon fill="#E3E3FF" points="591.6,106.1 609.8,101.6 610.89,103.94 611.7,106.4 610.51,108.93 609.2,111.4 608.79,113.89 608.6,116.4 608.3,119.62 607.3,122.7 607.39,125.67 606.92,128.63 607.3,131.6 607.52,134.76 607.9,137.9 600.3,140.5 599.1,135.3 596.6,127.8 593.4,120.2 594.1,115.2"/>
<polygon fill="#E3E3FF" points="609.8,101.6 611.1,96.9 614.2,96.3 620.5,112.7 626.8,129.7 626.2,130.3 623,133.5 607.9,137.9 607.52,134.76 607.3,131.6 606.92,128.63 607.39,125.67 607.3,122.7 608.3,119.62 608.6,116.4 608.79,113.89 609.2,111.4 610.51,108.93 611.7,106.4 610.89,103.94"/>
<polygon fill="#0047AB" points="614.2,96.3 617,91 619.8,84.5 618.5,80 619.5,72 624.6,57.4 627.7,61 634.3,56.3 641,59 647.1,79.4 651.2,80.5 653.3,85 657.4,86.6 659.5,90 658,92.5 656.5,95 654.42,96.88 651.97,98.16 649.5,99.4 648.44,101.15 647,102.6 644.5,100.1 641.3,100.1 640.24,101.94 639.4,103.9 639.39,106.4 639.4,108.9 636.64,109.63 634.4,111.4 633.28,113.1 631.9,114.6 630,117.1 629.65,119.97 628.7,122.7 627.48,125.1 627.5,127.8 626.8,129.7 620.5,112.7"/>
<polygon fill="#E3E3FF" points="626.2,130.3 627.69,132.25 629.3,134.1 627.5,137.2 626.8,139.7 629.24,141.47 631.9,142.9 632.99,144.81 634.5,146.4 637,147.6 635.7,150.8 633.2,152.7 629.4,152 627.5,150.2 625.6,150.8 624.4,146.4 619.3,147.6 601.1,151.4 600.3,140.5 607.9,137.9 623,133.5"/>
<polygon fill="#0047AB" points="625.6,150.8 626.3,153.3 622.5,157.1 621.2,157.1 619.3,147.6 624.4,146.4"/>
<polygon fill="#0047AB" points="621.2,157.1 615.6,160.2 609.3,163.4 604.2,165.9 601.7,167.2 602.3,164 601.1,151.4 619.3,147.6"/>
<polygon fill="#0047AB" points="589.2,220.3 594.2,218.4 592.3,225.3 589.8,230.4 588.2,233.5 587.9,232.9 588.6,227.9"/>
<polygon fill="#0047AB" points="599.8,174.5 605.5,168.4 611.8,165.3 616.8,163 616.2,165.3 621.2,161.5 618.1,165.9 611.8,170.3 605.5,172.8 599.8,175.8"/>
<polygon fill="#A80000" points="566.8,208.75 571.7,204.5 575.8,208.75 571.4,213.4"/>
<polygon fill="#FFFFFF" points="99,393.2 97.27,393.24 95.54,393.29 93.9,392.6 92.26,392.19 90.5,392.79 88.9,392 86.4,391.95 83.9,392 81.62,391.07 79.5,389.8 77.41,389.79 75.7,388.6 74.09,389.64 72.5,390.7 70.89,392.23 68.7,392.6 66.2,392 65.33,393.89 64.3,395.7 61.8,397 60.74,398.45 59,398.9 60.31,400.19 60.6,402 61.93,403.23 63.1,404.6 64.36,406.21 66.2,407.1 68.5,408.3 66.2,409.6 64.45,409.44 63.1,408.3 60.9,408.69 58.7,408.3 56.57,409.09 54.6,410.2 54.84,412.08 56.2,413.4 58,415.3 59.69,415.61 61.42,415.56 63.1,415.9 66,416.5 66.2,419 64.3,420.9 62.33,420.59 60.6,421.6 59.67,423.06 58,423.5 56.6,425.7 55.05,426.95 54.3,428.8 55.42,430.58 56,432.6 58.34,432.77 60.4,433.9 61.51,435.58 61.6,437.6 62.21,439.76 62.3,442 63.75,442.78 65.4,442.7 67.9,441.4 69.94,441.63 71.7,442.7 71.29,444.53 71.1,446.4 69.98,447.9 69.2,449.6 67.41,451.29 65.4,452.7 63.71,453.27 62.28,454.54 60.4,454.6 58.98,456.02 57.19,456.7 55.3,457.2 53.62,457.88 52.2,459 54.39,458.6 56.6,458.4 58.62,457.52 60.83,457.25 62.9,456.5 64.45,455.67 65.93,454.7 67.81,454.54 69.2,453.4 70.65,452.32 71.44,450.6 73.02,449.65 74.2,448.3 75.49,446.65 77.15,445.28 78,443.3 79.24,441.23 79.9,438.9 81.22,436.81 83,435.1 85.32,434.07 86.8,432 88.5,431.3 87.69,433.45 86,435 85.1,437.05 84,439 85.5,440 87.17,439.79 88.6,438.9 89.84,437.27 91.7,436.4 92.03,434.5 92.4,432.6 94.9,432 97.09,432.37 98.7,433.9 101.2,435.1 103.15,434.93 105.08,434.66 106.9,433.9"/>
<polygon fill="#FFFFFF" points="106.9,433.9 111.3,435.1 116.3,437 118.2,433.2 123.9,435.7 130.2,441.4 135.2,443.9 137.1,447.1 133.9,450.2 130.8,451.5 126.4,447.1 121.3,443.9 118.2,439.5 113,437.5 108,435.5"/>
<polygon fill="#FFFFFF" points="77.6,449 79,446.5 82.5,444.8 83.7,446.5 82.5,449.5 79.5,451.5 77.8,451"/>
<polygon fill="#FFFFFF" points="44.8,417 46.5,416.8 48,418.5 50.5,419.5 50,421 48,420.3 46,418.8"/>
<polygon fill="#FFFFFF" points="50.5,434.5 52,433.5 54.2,434.2 54,436 52,436.3 50.7,435.6"/>
<polygon fill="#000" points="39.3,429.6 40.4,429.8 40.3,430.8 39.4,430.6"/>
<polygon fill="#FFFFFF" points="40.2,464 42,461.8 44,461 45,461.8 47.8,460.3 47.5,462 45,463 43,463.3 41.5,464.3"/>
<polygon fill="#000" points="15.7,461 17,461 18,462.8 19.4,463.2 18.5,463.8 16.8,462.8"/>
<polygon fill="#000" points="22.6,463 24.5,463.3 26.4,462.6 26.2,463.9 23,464"/>
<polygon fill="#0047AB" points="161,435 162.5,433.2 164.4,432.3 164,433.4 162,435.2"/>
<polygon fill="#0047AB" points="168.2,431 170,429.3 173.5,429 174.7,430.5 174.2,433.5 172,434.7 169.5,434 168.3,432.5"/>
<polygon fill="#0047AB" points="188.4,439 190,438.2 192,437 193.5,437.5 194.3,440 196.6,442 196,443.7 193.5,443 191,443 189.5,441.3"/>
<polygon fill="#0047AB" points="201.9,444.6 204,444 208,444.2 209.75,445 209.5,446 206,445.8 202.5,445.8"/>
<polygon fill="#0047AB" points="205.3,449.5 206.5,448.4 208.2,449 208.4,450.8 207,451.6 205.6,450.8"/>
<polygon fill="#0047AB" points="210.3,447.5 212,446.9 213.5,448.5 216,448.3 219,449.5 220.6,451 219.5,453 217,454 214.5,453 213,450.5 211,449.3"/>
<polygon fill="#0047AB" points="222.5,458.5 226,460.2 229.5,462 233,464.5 236.6,468.5 235,470.5 231,472.5 227.5,475.5 225.5,477.8 222.8,476.8 221.5,473 220.3,468 218.8,465.5 220.5,462"/>
<polygon fill="#FFFFE1" points="67.5,45 71,44 71.8,48 71.4,51.3 69.3,53 68.5,56.3 67.25,60.1 64.75,61.3 62.7,63 59.3,63 58.5,60.9 60.2,57.2 63.5,54.7 66,52.2 66.8,47.6"/>
<polygon fill="#FFBFBF" points="67.8,49.5 69.6,49.5 68.6,53 67.2,57 65.6,59.3 62.2,60 61.6,58.6 64.5,56.2 66.6,52.8"/>
<polygon fill="#000" points="68.3,43.8 70.3,43.3 71.2,47.5 70.6,50.6 69,51.6 68.2,48"/>
<polygon fill="#000" points="64,39.8 65,39.6 66,42 65.3,42.7 64.3,41.2"/>
<polygon fill="#000" points="416,87.8 419,85.5 422.5,84 422.7,84.8 419.5,86.8 416.4,88.5"/>
<polygon fill="#000" points="37.5,269.5 40,269.3 42,270.3 45,270 45,271 41,271.3 37.6,270.6"/>
<polygon fill="#000" points="55.6,283 57,283.5 57.3,285 56,284.6"/>
<polygon fill="#000" points="53,289.5 54,289.8 55,292.3 54,292.2"/>
<polygon fill="#000" points="633,153.6 634.5,153 636,153.6 635.5,154.8 633.3,154.7"/>
<polygon fill="#000" points="640.6,153 642,152.5 642.8,153.8 641,154"/>
<polygon fill="#FFFFE1" points="420,365 422,363.3 425.5,363 427.5,364.5 427,367 424,368 421,367.3"/>
<polygon fill="#000" points="133,446 136.5,446 137,448 134.5,450.5 132,450"/>
</g>
<g fill="none" stroke="#000" stroke-width="0.85" stroke-linejoin="round" stroke-linecap="round">
<polygon points="45.5,74 45,72.03 45.2,70 45.6,67.2 46.27,65.15 46.4,63 49.5,62.2 50.5,60.8 47.7,59.7 48.03,57.59 48.5,55.5 48.04,53.42 48.1,51.3 47.07,48.9 46.8,46.3 46.43,44.27 46.4,42.2 47.25,38.4 49.3,38.4 50.79,39.98 52.29,41.54 53.9,43 56.51,44.28 59.3,45.1 61.98,45.39 64.3,46.75 66.4,47.6 67.5,45.5 69.3,43 71.4,41.75 71,38.8 69.75,35.2 98.75,42.9 127.5,50 119.5,94.5 117.16,93.64 114.64,93.81 112.27,93.16 109.75,93.3 107.4,92.49 105,92 102.47,91.67 99.89,91.57 97.55,90.25 95,90 92.5,89.5 90,89.48 87.5,89.47 85,89.41 82.5,89.66 80,90 77.49,89.64 75.03,88.96 72.5,88.75 69.99,87.91 67.5,87 64.92,86.28 62.32,85.73 59.6,86.05 57,85.5 55.68,82.91 55.5,80 53.36,78.88 51.99,76.81 50,75.5 47.85,74.45"/>
<polygon points="23.75,135.5 23.42,133.37 23,131.25 23.54,128.76 24.08,126.27 24.31,123.71 25,121.25 26.49,119.2 27.27,116.74 28.75,114.69 30,112.5 31.03,109.98 32,107.44 33.17,104.98 34.12,102.43 35.08,99.88 36.46,97.51 37.5,95 38.98,92.62 39.91,89.96 41.54,87.65 42.5,85 43.08,82.2 43.86,79.46 44.73,76.75 45.5,74 47.85,74.45 50,75.5 51.99,76.81 53.36,78.88 55.5,80 55.68,82.91 57,85.5 59.6,86.05 62.32,85.73 64.92,86.28 67.5,87 69.99,87.91 72.5,88.75 75.03,88.96 77.49,89.64 80,90 82.5,89.66 85,89.41 87.5,89.47 90,89.48 92.5,89.5 95,90 97.55,90.25 99.89,91.57 102.47,91.67 105,92 107.4,92.49 109.75,93.3 112.27,93.16 114.64,93.81 117.16,93.64 119.5,94.5 120.99,95.8 122,97.5 121.25,100 119.51,101.79 118.85,104.23 117.5,106.25 115.42,108.47 114.36,111.38 112.5,113.75 111.22,115.65 111.13,118.04 110,120 110,127 104.5,155.75 70.75,149"/>
<polygon points="70,301 69.67,298.01 69.5,295 69.07,292.52 67.98,290.22 67.5,287.75 65.86,285.59 64.3,283.38 62.95,281.03 61.64,278.66 60,276.5 58.93,274.28 58,272 55.26,271.63 52.5,271.5 50.94,269.63 49.55,267.6 47.9,265.8 46.25,264 44.19,263.26 42.12,262.55 40,262 37.52,260.47 35,259 35.05,256.65 34.6,254.34 34.5,252 34.03,249.26 33.75,246.5 32.96,244.28 31.86,242.19 31,240 29.71,237.06 28.75,234 27.66,231.58 26.37,229.27 25,227 25.7,224.87 26.7,222.84 27.5,220.75 27.02,218.52 26.45,216.32 25.86,214.12 25,212 25.97,209.49 27,207 25.93,204.53 25,202 23.03,199.57 21.25,197 20.38,194.45 19.42,191.93 18.34,189.46 17.05,187.08 16.25,184.5 16.25,181.98 16.95,179.52 17.08,177.01 17.36,174.51 17.5,172 17.09,169.21 16.08,166.55 15.92,163.7 15.3,160.96 14.5,158.25 15.71,155.66 17.4,153.33 18.71,150.8 20,148.25 20.9,145.74 21.74,143.22 22.47,140.66 22.92,138.03 23.75,135.5 70.75,149 58.75,193.25 110,267.75 109.95,269.82 108.75,271.5 109.69,274 110.51,276.54 112.11,278.8 112.5,281.5 111.25,284.28 109.68,286.84 107.5,289 105.33,291.16 103.71,293.69 102.5,296.5 103.47,298.91 103.75,301.43 103.75,304"/>
<polygon points="70.75,149 104.5,155.75 137.5,164 123.75,240.5 123.14,242.99 122.05,245.34 121.21,247.76 120.78,250.31 120,252.75 117.53,253.34 114.92,253.12 112.5,254 112.36,256.62 111.25,259 111.19,261.97 110.39,264.83 110,267.75 58.75,193.25"/>
<polygon points="127.5,50 137,52.5 136.97,55.06 135.55,57.4 135.94,60.02 134.82,62.41 135,65 135.93,67.86 135.78,70.96 137,73.75 138.35,76.11 138.44,78.97 140,81.25 141.88,83.61 143.09,86.41 145,88.75 147.5,91.25 146.24,93.61 145.27,96.06 145,98.75 144.77,101.53 144.53,104.3 143.75,107 146.62,107.36 149.5,107 150.97,109.49 151.9,112.18 152.5,115 153.4,117.42 153.65,119.95 153.75,122.5 155.56,125.05 157.5,127.5 160.29,127.32 163,128 165.33,127.69 167.67,128.16 170,128 172.42,126.89 175,126.25 178.2,127.5 172.5,168.25 137.5,164 104.5,155.75 110,127 110,120 111.13,118.04 111.22,115.65 112.5,113.75 114.36,111.38 115.42,108.47 117.5,106.25 118.85,104.23 119.51,101.79 121.25,100 122,97.5 120.99,95.8 119.5,94.5"/>
<polygon points="137,52.5 195,63.75 260.5,70.75 256.5,118 255,132 178.75,123.25 178.2,127.5 175,126.25 172.42,126.89 170,128 167.67,128.16 165.33,127.69 163,128 160.29,127.32 157.5,127.5 155.56,125.05 153.75,122.5 153.65,119.95 153.4,117.42 152.5,115 151.9,112.18 150.97,109.49 149.5,107 146.62,107.36 143.75,107 144.53,104.3 144.77,101.53 145,98.75 145.27,96.06 146.24,93.61 147.5,91.25 145,88.75 143.09,86.41 141.88,83.61 140,81.25 138.44,78.97 138.35,76.11 137,73.75 135.78,70.96 135.93,67.86 135,65 134.82,62.41 135.94,60.02 135.55,57.4 136.97,55.06"/>
<polygon points="260.5,70.75 296,73 331.25,74.25 331.9,76.87 332.55,79.49 332.72,82.21 333.36,84.83 333.75,87.5 333.78,90.05 334.01,92.56 335.2,94.94 334.68,97.57 335.5,100 335.43,102.51 336.27,104.97 336.39,107.47 335.93,110.01 336.25,112.5 336.78,115.14 336.33,117.87 337,120.5 256.5,118"/>
<polygon points="256.5,118 337,120.5 336.01,123.38 335,126.25 336.27,128.31 338,130 337.97,132.68 337.96,135.37 338.05,138.05 338.33,140.73 338.28,143.41 338.4,146.09 338.32,148.78 338.39,151.46 338.63,154.14 338.44,156.82 338.75,159.5 337.5,166 337,172 334.66,171.62 332.25,171.64 330,170.75 327.47,170.5 324.98,170.06 322.5,169.5 319.91,169.24 317.5,168.25 315,167.5 253.5,164.25 255,132"/>
<polygon points="178.2,127.5 178.75,123.25 255,132 253.5,164.25 250,194.5 191.25,189.5 169.5,184 172.5,168.25"/>
<polygon points="137.5,164 172.5,168.25 169.5,184 191.25,189.5 183.75,250.25 123.75,240.5"/>
<polygon points="191.25,189.5 250,194.5 272.5,197 272.5,212 270,259 257.5,258.5 183.75,250.25"/>
<polygon points="123.75,240.5 183.75,250.25 172,337.75 145,334.75 100,307.75 103.75,304 103.75,301.43 103.47,298.91 102.5,296.5 103.71,293.69 105.33,291.16 107.5,289 109.68,286.84 111.25,284.28 112.5,281.5 112.11,278.8 110.51,276.54 109.69,274 108.75,271.5 109.95,269.82 110,267.75 110.39,264.83 111.19,261.97 111.25,259 112.36,256.62 112.5,254 114.92,253.12 117.53,253.34 120,252.75 120.78,250.31 121.21,247.76 122.05,245.34 123.14,242.99"/>
<polygon points="183.75,250.25 257.5,258.5 257,266.5 251.25,336 204.5,333.25 183.75,334 182.5,339 172,337.75"/>
<polygon points="257,266.5 293.75,268.25 293,296.5 295.09,297.97 296.25,300.25 298.44,300.81 300.24,302.35 302.5,302.75 305.25,303.26 307.14,305.74 310,306 312.35,307.24 314.85,307.83 317.5,307.75 319.29,309.47 321.25,311 324.22,311.36 327.1,310.74 330,310.25 332.36,311.5 335.15,310.25 337.59,311.02 340,312 342.68,312.21 345.16,311.52 347.5,310.25 350,310.15 352.5,310.45 355,310.25 357.07,311.46 359.07,312.85 361.79,312.53 363.75,314 368.75,315.25 369.5,323.5 369.15,326.32 369.84,329.09 369.71,331.9 370.38,334.68 370,337.5 371.01,339.97 372.03,342.44 373.35,344.8 373.75,347.5 374.08,350.47 374.43,353.43 375.5,356.25 374.73,358.7 374.47,361.2 374.16,363.69 374.5,366.25 374.33,369.19 374.89,372.08 375,375 372.77,376.8 369.74,376.98 367.5,378.75 364.82,379.65 362.18,380.6 360,382.5 359.47,379.4 359.5,376.25 356.25,377.5 355.66,379.97 355.02,382.43 355,385 352.24,385.72 350.12,387.73 347.7,389.15 345,390 342.23,390.71 340,392.5 337.92,393.75 336.3,395.47 335,397.5 332.5,397.5 330.4,398.84 329.33,400.94 328.49,403.21 327,405 325.84,407.09 324.6,409.11 322.96,410.83 321.25,412.5 323.56,413.1 325,415 325,417.6 326.08,419.98 327.27,422.35 327,425 326.19,427.87 326.7,430.85 326.25,433.75 323.75,435 321.35,434.27 319.25,433.06 317.5,431.25 314.88,430.78 312.59,429.32 310,428.75 308.02,427.32 305.56,427.03 303.35,426.15 301.25,425 299.74,422.96 298.92,420.53 297.77,418.28 296.25,416.25 295.97,413.66 294.84,411.29 294.86,408.63 293.75,406.25 291.77,404.36 290.22,402.16 288.7,399.95 287.5,397.5 285.97,395.47 285.45,392.87 284.01,390.79 282.5,388.75 281.63,386.06 279.93,383.78 278.55,381.35 277.5,378.75 275.36,377.51 273.87,375.48 271.43,374.6 270,372.5 267.18,372.25 264.37,371.95 261.57,371.52 258.75,371.25 255.45,371.49 252.5,373 250.79,375.67 250,378.75 247.81,380.31 246.25,382.5 244.32,381.14 242.24,380.02 240.21,378.82 238.29,377.44 236.25,376.25 234.1,374.9 232.64,372.86 230.9,371.1 229.08,369.42 227.5,367.5 226.69,365.05 226.74,362.38 225.12,360.13 225,357.5 223.31,355.44 220.93,354.07 219.09,352.16 217.5,350 216.2,347.8 214.29,346.21 212.25,344.75 210.64,342.86 208.75,341.25 206.84,338.85 205.74,336.01 204.5,333.25 251.25,336"/>
<polygon points="270,259 360.5,261.5 361.25,269 363.75,294 363.75,314 361.79,312.53 359.07,312.85 357.07,311.46 355,310.25 352.5,310.45 350,310.15 347.5,310.25 345.16,311.52 342.68,312.21 340,312 337.59,311.02 335.15,310.25 332.36,311.5 330,310.25 327.1,310.74 324.22,311.36 321.25,311 319.29,309.47 317.5,307.75 314.85,307.83 312.35,307.24 310,306 307.14,305.74 305.25,303.26 302.5,302.75 300.24,302.35 298.44,300.81 296.25,300.25 295.09,297.97 293,296.5 293.75,268.25 257,266.5 257.5,258.5"/>
<polygon points="272.5,212 348.75,213.25 350.99,215.48 353.75,217 354.77,220.05 355,223.25 357.14,224.58 358.37,226.91 360.5,228.25 360.5,261.5 270,259"/>
<polygon points="253.5,164.25 315,167.5 317.5,168.25 319.91,169.24 322.5,169.5 324.98,170.06 327.47,170.5 330,170.75 332.25,171.64 334.66,171.62 337,172 338.41,174.33 339.05,176.98 340,179.5 340.65,181.99 341.25,184.5 341.95,186.98 342.5,189.5 343.62,191.89 344.24,194.43 344.19,197.17 345.5,199.5 346.36,202.3 347.5,205 348.75,213.25 272.5,212 272.5,197 250,194.5"/>
<polygon points="338.75,159.5 397.5,158.5 397.96,160.91 398.8,163.25 398.75,165.75 400.63,167.72 402.36,169.82 404,172 405.32,173.92 406.82,175.66 408.75,177 409.84,180.03 410,183.25 408.54,186.06 406.25,188.25 403.52,189.03 401.25,190.75 401.07,193.29 401.25,195.8 402,198.25 401.44,201.19 400.66,204.08 400,207 397.5,203.25 347.5,205 346.36,202.3 345.5,199.5 344.19,197.17 344.24,194.43 343.62,191.89 342.5,189.5 341.95,186.98 341.25,184.5 340.65,181.99 340,179.5 339.05,176.98 338.41,174.33 337,172 337.5,166"/>
<polygon points="347.5,205 397.5,203.25 400,207 399.25,209.75 397.5,212 398.87,214.44 400,217 401.85,218.58 403.03,220.8 405.49,221.8 406.7,224 408.23,226.28 408.6,229 410.96,230.04 413,231.6 412.23,233.85 412.56,236.2 412.4,238.5 413.83,240.43 415.3,242.32 416.8,244.2 419.21,245.48 421.35,247.09 423.1,249.2 423.24,251.81 424.3,254.2 425.79,255.68 427,257.4 427.51,259.43 427.8,261.5 427.45,263.76 427,266 425.76,267.76 424.5,269.5 423.2,272.03 421.8,274.5 415.2,274.6 416.8,268.1 361.25,269 360.5,261.5 360.5,228.25 358.37,226.91 357.14,224.58 355,223.25 354.77,220.05 353.75,217 350.99,215.48 348.75,213.25"/>
<polygon points="361.25,269 416.8,268.1 415.2,274.6 421.8,274.5 420.76,276.9 420.95,279.6 420.33,282.1 418.94,284.4 418.7,287 417,290.25 415,291.5 413.36,293.47 413.4,296.18 411.89,298.2 410.85,300.43 410,302.75 409.44,304.96 408.12,306.95 408.49,309.42 407.5,311.5 407.67,314 406.76,316.5 407.36,319 407.5,321.5 369.5,323.5 368.75,315.25 363.75,314 363.75,294"/>
<polygon points="369.5,323.5 407.5,321.5 408.34,323.95 409.16,326.4 409.33,329.01 410,331.5 408.89,334.07 407.09,336.3 405.7,338.72 405,341.5 405.05,344.11 403.35,346.37 403.2,348.94 403.65,351.63 402.5,354 427.5,354 427.97,356.42 428.42,358.84 428.41,361.32 428.75,363.75 430.44,366.04 432.5,368 430,370 431.24,372.75 432.5,375.5 434.59,377.76 437.5,378.75 436.88,381.57 435,383.75 432.64,381.69 430,380 427.8,378.95 425.49,378.08 423.75,376.25 422.08,378.33 420,380 417.37,379.62 415.04,381.08 412.5,381.25 410.22,379.57 407.08,379.58 405,377.5 402.1,376.16 400,373.75 397.42,374.84 395,376.25 392.18,375.87 389.29,375.9 386.62,374.56 383.75,374.5 380.79,373.9 377.92,374.97 375,375 374.89,372.08 374.33,369.19 374.5,366.25 374.16,363.69 374.47,361.2 374.73,358.7 375.5,356.25 374.43,353.43 374.08,350.47 373.75,347.5 373.35,344.8 372.03,342.44 371.01,339.97 370,337.5 370.38,334.68 369.71,331.9 369.84,329.09 369.15,326.32"/>
<polygon points="417,290.25 443.5,289.25 445,344 445.5,361.25 442.9,361.75 440.17,361.19 437.65,362.42 435,362.5 431.84,362.96 428.75,363.75 428.41,361.32 428.42,358.84 427.97,356.42 427.5,354 402.5,354 403.65,351.63 403.2,348.94 403.35,346.37 405.05,344.11 405,341.5 405.7,338.72 407.09,336.3 408.89,334.07 410,331.5 409.33,329.01 409.16,326.4 408.34,323.95 407.5,321.5 407.36,319 406.76,316.5 407.67,314 407.5,311.5 408.49,309.42 408.12,306.95 409.44,304.96 410,302.75 410.85,300.43 411.89,298.2 413.4,296.18 413.36,293.47 415,291.5"/>
<polygon points="443.5,289.25 476.25,286.5 486.25,324 486.81,326.21 487.05,328.5 488.24,330.53 488.75,332.75 487.64,335.78 487.5,339 488.03,341.81 488.6,344.61 489.48,347.32 490.5,350 456.5,351.25 457.5,360 454.96,360.63 452.5,361.5 452.09,359.33 452.04,357.1 451.25,355 449.5,358 447.72,359.9 445.5,361.25 445,344"/>
<polygon points="427,266 442,265.2 442.9,262.4 500,256.5 520,254.5 518.14,256.51 517.88,259.37 516.25,261.5 513.93,262.9 511.66,264.37 509.54,266.05 506.89,266.96 505,269 503.2,270.57 501.09,271.64 498.61,272.12 496.93,273.88 495,275.25 493.5,277.71 492.71,280.52 491.25,283 476.25,286.5 443.5,289.25 417,290.25 418.7,287 418.94,284.4 420.33,282.1 420.95,279.6 420.76,276.9 421.8,274.5 423.2,272.03 424.5,269.5 425.76,267.76"/>
<polygon points="427,257.4 429.4,255.5 432.5,253.6 435,254.9 435.86,253.07 436.3,251.1 438.17,250.09 440.1,249.2 440.45,247.01 440.7,244.8 443.09,244.16 445.07,242.55 447.5,242 450.52,242.33 453.39,241.55 456.25,240.75 459,239.21 461.25,237 463.11,235.3 465.58,235.03 467.46,233.37 470,233.25 470.55,230.11 471.25,227 472.55,224.98 475.01,224.15 476.25,222.06 478,220.5 480.23,220.94 482.5,220.75 485.19,221.62 487.16,223.92 489.83,224.84 492.5,225.75 495.05,225.85 497.4,224.31 499.99,224.71 502.5,224.5 504.51,226.13 505.07,228.63 506.25,230.75 507.55,232.59 508.75,234.5 510.64,235.94 511.69,238.22 513.75,239.5 513.8,241.3 512.03,243.2 510.91,245.6 508.61,247.09 507.5,249.5 505.42,251.03 503.53,252.76 502.31,255.22 500,256.5 442.9,262.4 442,265.2 427,266 427.45,263.76 427.8,261.5 427.51,259.43"/>
<polygon points="404,172 437.5,171 438.75,177 443,183.5 445,219.5 444.89,222.05 445.19,224.55 446.28,226.96 446.25,229.5 445.38,232.15 444.39,234.75 443.41,237.36 442.5,240 441.2,242.25 440.7,244.8 440.45,247.01 440.1,249.2 438.17,250.09 436.3,251.1 435.86,253.07 435,254.9 432.5,253.6 429.4,255.5 427,257.4 425.79,255.68 424.3,254.2 423.24,251.81 423.1,249.2 421.35,247.09 419.21,245.48 416.8,244.2 415.3,242.32 413.83,240.43 412.4,238.5 412.56,236.2 412.23,233.85 413,231.6 410.96,230.04 408.6,229 408.23,226.28 406.7,224 405.49,221.8 403.03,220.8 401.85,218.58 400,217 398.87,214.44 397.5,212 399.25,209.75 400,207 400.66,204.08 401.44,201.19 402,198.25 401.25,195.8 401.07,193.29 401.25,190.75 403.52,189.03 406.25,188.25 408.54,186.06 410,183.25 409.84,180.03 408.75,177 406.82,175.66 405.32,173.92"/>
<polygon points="443,183.5 451.5,180.5 473.75,180 478,220.5 476.25,222.06 475.01,224.15 472.55,224.98 471.25,227 470.55,230.11 470,233.25 467.46,233.37 465.58,235.03 463.11,235.3 461.25,237 459,239.21 456.25,240.75 453.39,241.55 450.52,242.33 447.5,242 445.07,242.55 443.09,244.16 440.7,244.8 441.2,242.25 442.5,240 443.41,237.36 444.39,234.75 445.38,232.15 446.25,229.5 446.28,226.96 445.19,224.55 444.89,222.05 445,219.5"/>
<polygon points="473.75,180 492,179.3 495,181.25 497.49,180.94 500,180.75 502.46,179.79 504.97,178.98 507.5,178.25 509.51,176.69 511.88,175.76 514.12,174.6 516.25,173.25 518.54,172.34 520.54,170.95 522.5,169.5 524.5,190.75 525.1,193.88 524.5,197 524.54,199.61 523.05,201.91 523.64,204.63 522.5,207 520.58,209.24 518.04,210.88 516.25,213.25 514.71,215.14 512.81,216.74 511.48,218.81 510,220.75 509.27,223.33 508.6,225.93 507.78,228.47 506.25,230.75 505.07,228.63 504.51,226.13 502.5,224.5 499.99,224.71 497.4,224.31 495.05,225.85 492.5,225.75 489.83,224.84 487.16,223.92 485.19,221.62 482.5,220.75 480.23,220.94 478,220.5"/>
<polygon points="451.5,180.5 452.82,177.83 454.69,175.43 455.5,172.5 455.53,169.99 455.53,167.48 455,165 454.02,162.37 452.39,160.05 451.25,157.5 450.93,154.98 450.4,152.5 450.26,149.94 449.5,147.5 450.25,145.05 450.33,142.49 451.29,140.08 451.25,137.5 452.01,134.76 453.96,132.6 455,130 456.29,127.52 457.5,125 457.85,128.02 458.5,131 459.36,128.57 460.5,126.25 460,122.5 461.9,120.6 463.03,118.09 465,116.25 467.59,116.53 470.03,117.37 472.62,117.65 475,118.75 477.47,120.46 479.73,122.48 482.5,123.75 483.17,126.63 483.69,129.53 483.75,132.5 483.27,135.17 481.78,137.46 481.5,140.21 480,142.5 479.22,144.95 479.5,147.5 481.68,147.05 483.75,146.25 485.78,144.95 486.94,142.78 488.75,141.25 491.07,142.86 493.75,143.75 494.23,145.98 494.65,148.23 496.05,150.19 496.25,152.5 496.85,154.97 497.24,157.47 497.5,160 496.59,162.67 495.25,165.12 493.75,167.5 493.45,169.78 492.48,171.87 491.78,174.03 491.25,176.25 492,179.3 473.75,180"/>
<polygon points="405,110 407.19,108.93 409.02,107.26 411.25,106.25 413.69,105.43 415.75,103.97 417.95,102.74 420,101.25 421.43,98.42 423.75,96.25 425.8,95.19 427.66,93.72 430,93.25 431.25,95 429.62,96.7 428.18,98.59 426.25,100 427.86,102.14 430,103.75 432.52,104.31 435,105 437.38,106.2 439.99,106.71 442.5,107.5 444.97,106.59 447.57,106.05 450,105 452.11,104.11 454.41,103.88 456.71,103.65 458.75,102.5 460.77,103.53 462.5,105 465,105.42 467.5,104.49 470,105 470.36,106.96 471.25,108.75 473.73,109.26 476.16,110.15 478.75,110 478.75,112.5 475.83,112.66 472.92,112.3 470,112.5 466.95,113.48 463.75,113.75 460.83,113.7 457.92,114.26 455,113.75 452.39,114.79 450,116.25 448.22,117.81 446.68,119.6 445,121.25 443.04,123.42 441,125.5 439.54,127.98 437.5,130 435.5,126.25 430,120 420,116.25"/>
<polygon points="385.5,108.75 385.16,111.55 385.53,114.39 384.63,117.17 385,120 382.77,121.29 380.67,122.77 378.75,124.5 379.91,127 380.07,129.73 381.2,132.24 381.25,135 382.55,137.48 383.75,140 385.95,140.94 387.55,142.81 389.78,143.7 391.54,145.33 393.75,146.25 394.54,148.76 395.49,151.22 396.25,153.75 396.65,156.18 397.5,158.5 397.96,160.91 398.8,163.25 398.75,165.75 400.63,167.72 402.36,169.82 404,172 437.5,171 437.07,168.26 436.48,165.54 436.77,162.73 436.25,160 436.1,157.46 436.73,155 436.83,152.48 437.34,150.01 437.5,147.5 438.14,145 439,142.56 439.73,140.09 440,137.5 440.51,134.85 441.2,132.24 442,129.65 442.5,127 441.08,129.59 439.77,132.23 438.75,135 436.41,136.63 434.5,138.75 433,137 434.34,134.57 436.31,132.53 437.5,130 435.5,126.25 430,120 420,116.25 405,110 400,104.5 395,105"/>
<polygon points="331.25,74.25 333.84,73.85 336.45,74.45 339.04,74.28 341.63,74.4 344.21,73.78 346.81,73.97 349.41,74.04 352,73.75 352.58,71.28 352.5,68.75 356.25,68.75 356.77,71.86 357,75 359.77,76.03 362.19,77.8 365,78.75 367.35,80.29 370,81.25 373.2,80.65 376.25,79.5 378.05,81.33 380.25,82.57 382.5,83.75 384.99,83.42 387.48,83.06 390,83 392.68,84.35 395,86.25 397.48,85.75 399.95,85.2 402.54,85.59 405,85 407.1,85.79 409.33,86.26 411.25,87.5 408.89,89.18 406.86,91.23 404.75,93.2 402.5,95 400.56,97.17 398.23,98.87 396.19,100.92 393.75,102.5 391.71,104.09 389.77,105.81 387.4,106.98 385.5,108.75 385.16,111.55 385.53,114.39 384.63,117.17 385,120 382.77,121.29 380.67,122.77 378.75,124.5 379.91,127 380.07,129.73 381.2,132.24 381.25,135 382.55,137.48 383.75,140 385.95,140.94 387.55,142.81 389.78,143.7 391.54,145.33 393.75,146.25 394.54,148.76 395.49,151.22 396.25,153.75 396.65,156.18 397.5,158.5 338.75,159.5 338.44,156.82 338.63,154.14 338.39,151.46 338.32,148.78 338.4,146.09 338.28,143.41 338.33,140.73 338.05,138.05 337.96,135.37 337.97,132.68 338,130 336.27,128.31 335,126.25 336.01,123.38 337,120.5 336.33,117.87 336.78,115.14 336.25,112.5 335.93,110.01 336.39,107.47 336.27,104.97 335.43,102.51 335.5,100 334.68,97.57 335.2,94.94 334.01,92.56 333.78,90.05 333.75,87.5 333.36,84.83 332.72,82.21 332.55,79.49 331.9,76.87"/>
<polygon points="522.5,169.5 529.5,166 530,164.5 574,157.7 579,157.1 583.4,159.6 585.3,163.4 587.9,164.6 587.04,167.48 586,170.3 585.96,173.48 586.6,176.6 587.84,178.77 589.44,180.66 591.08,182.51 592.9,184.2 591.08,186.76 589.1,189.2 587.49,190.73 585.4,191.5 582.9,192.6 539.75,202.5 527,203.25 524.5,190.75"/>
<polygon points="529.5,166 530.82,163.56 532.75,161.56 534.05,159.1 536.22,157.29 537.75,155 536.68,152.68 536.23,150.11 534.81,147.93 534,145.5 536.6,145.49 538.99,144.44 541.49,143.95 544.05,143.77 546.47,142.86 549,142.5 551.33,141.08 554.16,140.91 556.45,139.36 558.91,138.28 561.5,137.5 562.12,135.02 562.4,132.48 562.8,129.96 563.02,127.4 564,125 565.34,122.64 566.98,120.49 568.86,118.49 570.27,116.18 571.5,113.75 574,112.5 576.32,110.9 579,110 581.52,108.84 584,107.6 586.45,106.67 589.09,106.74 591.6,106.1 594.1,115.2 593.4,120.2 596.6,127.8 599.1,135.3 600.3,140.5 601.1,151.4 602.3,164 601.7,167.2 600,170 599.5,172 598.5,168.5 587.9,164.6 585.3,163.4 583.4,159.6 579,157.1 574,157.7 530,164.5"/>
<polygon points="599.5,172 598.92,174.09 597.9,176 598.99,178.29 600.4,180.4 600.8,183.54 601.1,186.7 600.62,189.89 599.8,193 599.12,195.35 598.06,197.54 596.99,199.73 596.1,202 594.2,200.8 591.73,199.27 589.28,197.72 586.7,196.4 585.69,194.05 585.4,191.5 587.49,190.73 589.1,189.2 591.08,186.76 592.9,184.2 591.08,182.51 589.44,180.66 587.84,178.77 586.6,176.6 585.96,173.48 586,170.3 587.04,167.48 587.9,164.6 598.5,168.5"/>
<polygon points="585.4,191.5 586,195 589.2,201.4 593,206.4 594.9,210.2 587.3,210.9 582.9,192.6"/>
<polygon points="582.9,192.6 539.75,202.5 540.2,209.2 543.5,205.8 546.8,202.5 549.3,200.8 551.4,201.7 553.9,200.4 556.5,200.8 559.3,202.5 560.2,205 562.7,204.2 564.75,205.8 567.25,208.5 571.4,212.9 568.9,214.2 568.5,217.1 571.8,216.7 575.2,218.3 576.6,219 581,219.6 579.6,215.5 578,211 577.1,206.7 576.9,201.5 578.6,198.6 581,197.3 579.9,199.5 580.1,203 580.5,207 581,213 584.3,215.8 586,217.5 588,219.2 589.2,220.3 594.2,218.4 595.5,216.5 594.9,210.2 587.3,210.9"/>
<polygon points="576.6,219 576.74,221.2 576.6,223.4 577.72,225.65 579.7,227.2 578.5,229.7 581.6,231.6 579.7,234.2 582.04,234.87 584.2,236 582.9,238.6 586.7,239.2 588.79,239.28 590.5,240.5 590.3,242.6 520,254.5 500,256.5 502.31,255.22 503.53,252.76 505.42,251.03 507.5,249.5 508.61,247.09 510.91,245.6 512.03,243.2 513.8,241.3 515.87,242.07 517.75,243.16 519.5,244.5 521.84,243.89 524,242.8 526.3,241.41 528.9,240.7 531.69,239.04 534.6,237.6 535.77,235.13 536.5,232.5 537.48,229.99 538.5,227.5 539.57,225.49 540.2,223.3 541.8,220.8 543.91,220.46 546,220 546.28,217.88 546.8,215.8 548.5,213.3 549.95,211.45 551.8,210 552.7,206.7 553,204.2 554.75,205 557.7,205.8 560.2,205 562.7,204.2 564.75,205.8 567.25,208.5 571.4,212.9 568.9,214.2 568.5,217.1 571.8,216.7 575.2,218.3"/>
<polygon points="506.25,230.75 507.78,228.47 508.6,225.93 509.27,223.33 510,220.75 511.48,218.81 512.81,216.74 514.71,215.14 516.25,213.25 518.04,210.88 520.58,209.24 522.5,207 523.64,204.63 523.05,201.91 524.54,199.61 524.5,197 525.1,193.88 524.5,190.75 527,203.25 539.75,202.5 540.2,209.2 543.5,205.8 546.8,202.5 549.3,200.8 551.4,201.7 553.9,200.4 556.5,200.8 559.3,202.5 560.2,205 557.7,205.8 554.75,205 553,204.2 552.7,206.7 551.8,210 549.95,211.45 548.5,213.3 546.8,215.8 546.28,217.88 546,220 543.91,220.46 541.8,220.8 540.2,223.3 539.57,225.49 538.5,227.5 537.48,229.99 536.5,232.5 535.77,235.13 534.6,237.6 531.69,239.04 528.9,240.7 526.3,241.41 524,242.8 521.84,243.89 519.5,244.5 517.75,243.16 515.87,242.07 513.8,241.3 513.75,239.5 511.69,238.22 510.64,235.94 508.75,234.5 507.55,232.59"/>
<polygon points="590.3,242.6 589,245.8 587.31,248.14 585.3,250.2 582.7,252.7 585.2,251.93 587.8,252.1 590.26,252.87 592.8,253.3 594.7,255.9 593.01,257.85 592.2,260.3 589.95,260.22 587.8,260.9 585.9,262.8 587.8,265.3 586.5,268.5 588.38,269.16 590.3,269.7 590.9,273.5 587.8,272.2 585.89,273.51 583.76,274.26 581.5,274.7 580.22,276.59 578.5,278.19 577.7,280.4 576.04,282.74 575.42,285.59 573.9,288 571.34,288.26 568.82,288.81 566.25,289 550,279 533.75,280.25 530,276 515,276.5 505,281.5 491.25,283 492.71,280.52 493.5,277.71 495,275.25 496.93,273.88 498.61,272.12 501.09,271.64 503.2,270.57 505,269 506.89,266.96 509.54,266.05 511.66,264.37 513.93,262.9 516.25,261.5 517.88,259.37 518.14,256.51 520,254.5"/>
<polygon points="566.25,289 564.59,291.3 564.13,294.19 563.11,296.81 561.21,298.98 560,301.5 558.04,303.16 556.87,305.41 555.66,307.62 554.34,309.76 552.5,311.5 551.17,313.71 549.33,315.32 546.8,316.1 545,317.75 543.44,319.92 541.29,321.61 540,324 537.65,321.85 536.25,319 535.01,316.58 532.8,314.86 531.47,312.51 530,310.25 528.71,308.04 526.99,306.21 524.84,304.77 523.66,302.46 521.87,300.7 520,299 517.98,297.02 516.31,294.69 514.19,292.81 512.02,290.98 510,289 508.46,286.41 506.63,284.03 505,281.5 515,276.5 530,276 533.75,280.25 550,279"/>
<polygon points="540,324 539.53,326.54 539.37,329.15 538.48,331.59 537.5,334 536.8,336.6 536.68,339.22 537.24,341.88 537,344.5 531.25,345 530,351.25 528.75,348 490.5,350 489.48,347.32 488.6,344.61 488.03,341.81 487.5,339 487.64,335.78 488.75,332.75 488.24,330.53 487.05,328.5 486.81,326.21 486.25,324 476.25,286.5 491.25,283 505,281.5 506.63,284.03 508.46,286.41 510,289 512.02,290.98 514.19,292.81 516.31,294.69 517.98,297.02 520,299 521.87,300.7 523.66,302.46 524.84,304.77 526.99,306.21 528.71,308.04 530,310.25 531.47,312.51 532.8,314.86 535.01,316.58 536.25,319 537.65,321.85"/>
<polygon points="537,344.5 537.71,347.15 538.84,349.65 539.35,352.37 540.24,354.95 541.25,357.5 542.63,359.57 543.96,361.66 544.91,363.98 546.1,366.16 547.3,368.33 548.74,370.36 550,372.5 551.88,375 553.75,377.5 554.87,379.76 555.65,382.17 556.89,384.37 558.03,386.62 559.12,388.88 560,391.25 561.11,393.82 562.33,396.34 563.61,398.82 565,401.25 565.74,404.02 566.02,406.87 566.49,409.69 567,412.5 567.01,415.33 566.51,418.12 566.42,420.94 566.25,423.75 565.42,425.84 564.45,427.86 563.75,430 561.33,429.11 558.67,429.64 556.25,428.75 553.75,426.25 552.15,423.68 549.97,421.69 547.5,420 545.44,417.76 543.53,415.43 542.5,412.5 540.81,410.97 538.75,410 537.51,407.57 536,405.37 533.75,403.75 531.91,401.23 530,398.75 529.37,395.63 528.75,392.5 526.67,390.83 525,388.75 526.06,385.92 525.77,382.91 526.25,380 525.05,378.06 524.05,376.05 523.75,373.75 522.01,371.32 520.02,369.15 517.5,367.5 515.94,365.56 513.24,364.98 511.83,362.87 510,361.25 507.09,360.81 504.08,361.03 501.25,360 499.13,361.27 497.46,363.07 495.63,364.7 493.75,366.25 490.62,365.77 487.5,366.25 486.23,363.3 483.75,361.25 481.75,360.22 479.43,359.97 477.5,358.75 474.98,358.45 472.4,358.52 470,357.5 467.61,358.56 465,358.5 462.52,359.09 459.94,359.19 457.5,360 456.5,351.25 490.5,350 528.75,348 530,351.25 531.25,345"/>
<polygon points="591.6,106.1 609.8,101.6 610.89,103.94 611.7,106.4 610.51,108.93 609.2,111.4 608.79,113.89 608.6,116.4 608.3,119.62 607.3,122.7 607.39,125.67 606.92,128.63 607.3,131.6 607.52,134.76 607.9,137.9 600.3,140.5 599.1,135.3 596.6,127.8 593.4,120.2 594.1,115.2"/>
<polygon points="609.8,101.6 611.1,96.9 614.2,96.3 620.5,112.7 626.8,129.7 626.2,130.3 623,133.5 607.9,137.9 607.52,134.76 607.3,131.6 606.92,128.63 607.39,125.67 607.3,122.7 608.3,119.62 608.6,116.4 608.79,113.89 609.2,111.4 610.51,108.93 611.7,106.4 610.89,103.94"/>
<polygon points="614.2,96.3 617,91 619.8,84.5 618.5,80 619.5,72 624.6,57.4 627.7,61 634.3,56.3 641,59 647.1,79.4 651.2,80.5 653.3,85 657.4,86.6 659.5,90 658,92.5 656.5,95 654.42,96.88 651.97,98.16 649.5,99.4 648.44,101.15 647,102.6 644.5,100.1 641.3,100.1 640.24,101.94 639.4,103.9 639.39,106.4 639.4,108.9 636.64,109.63 634.4,111.4 633.28,113.1 631.9,114.6 630,117.1 629.65,119.97 628.7,122.7 627.48,125.1 627.5,127.8 626.8,129.7 620.5,112.7"/>
<polygon points="626.2,130.3 627.69,132.25 629.3,134.1 627.5,137.2 626.8,139.7 629.24,141.47 631.9,142.9 632.99,144.81 634.5,146.4 637,147.6 635.7,150.8 633.2,152.7 629.4,152 627.5,150.2 625.6,150.8 624.4,146.4 619.3,147.6 601.1,151.4 600.3,140.5 607.9,137.9 623,133.5"/>
<polygon points="625.6,150.8 626.3,153.3 622.5,157.1 621.2,157.1 619.3,147.6 624.4,146.4"/>
<polygon points="621.2,157.1 615.6,160.2 609.3,163.4 604.2,165.9 601.7,167.2 602.3,164 601.1,151.4 619.3,147.6"/>
</g>
<g stroke="#000" stroke-width="0.85" stroke-linejoin="round">
<polygon fill="#0047AB" points="589.2,220.3 594.2,218.4 592.3,225.3 589.8,230.4 588.2,233.5 587.9,232.9 588.6,227.9"/>
<polygon fill="#0047AB" points="599.8,174.5 605.5,168.4 611.8,165.3 616.8,163 616.2,165.3 621.2,161.5 618.1,165.9 611.8,170.3 605.5,172.8 599.8,175.8"/>
<polygon fill="#A80000" points="566.8,208.75 571.7,204.5 575.8,208.75 571.4,213.4"/>
<polygon fill="#FFFFFF" points="99,393.2 97.27,393.24 95.54,393.29 93.9,392.6 92.26,392.19 90.5,392.79 88.9,392 86.4,391.95 83.9,392 81.62,391.07 79.5,389.8 77.41,389.79 75.7,388.6 74.09,389.64 72.5,390.7 70.89,392.23 68.7,392.6 66.2,392 65.33,393.89 64.3,395.7 61.8,397 60.74,398.45 59,398.9 60.31,400.19 60.6,402 61.93,403.23 63.1,404.6 64.36,406.21 66.2,407.1 68.5,408.3 66.2,409.6 64.45,409.44 63.1,408.3 60.9,408.69 58.7,408.3 56.57,409.09 54.6,410.2 54.84,412.08 56.2,413.4 58,415.3 59.69,415.61 61.42,415.56 63.1,415.9 66,416.5 66.2,419 64.3,420.9 62.33,420.59 60.6,421.6 59.67,423.06 58,423.5 56.6,425.7 55.05,426.95 54.3,428.8 55.42,430.58 56,432.6 58.34,432.77 60.4,433.9 61.51,435.58 61.6,437.6 62.21,439.76 62.3,442 63.75,442.78 65.4,442.7 67.9,441.4 69.94,441.63 71.7,442.7 71.29,444.53 71.1,446.4 69.98,447.9 69.2,449.6 67.41,451.29 65.4,452.7 63.71,453.27 62.28,454.54 60.4,454.6 58.98,456.02 57.19,456.7 55.3,457.2 53.62,457.88 52.2,459 54.39,458.6 56.6,458.4 58.62,457.52 60.83,457.25 62.9,456.5 64.45,455.67 65.93,454.7 67.81,454.54 69.2,453.4 70.65,452.32 71.44,450.6 73.02,449.65 74.2,448.3 75.49,446.65 77.15,445.28 78,443.3 79.24,441.23 79.9,438.9 81.22,436.81 83,435.1 85.32,434.07 86.8,432 88.5,431.3 87.69,433.45 86,435 85.1,437.05 84,439 85.5,440 87.17,439.79 88.6,438.9 89.84,437.27 91.7,436.4 92.03,434.5 92.4,432.6 94.9,432 97.09,432.37 98.7,433.9 101.2,435.1 103.15,434.93 105.08,434.66 106.9,433.9"/>
<polygon fill="#FFFFFF" points="106.9,433.9 111.3,435.1 116.3,437 118.2,433.2 123.9,435.7 130.2,441.4 135.2,443.9 137.1,447.1 133.9,450.2 130.8,451.5 126.4,447.1 121.3,443.9 118.2,439.5 113,437.5 108,435.5"/>
<polygon fill="#FFFFFF" points="77.6,449 79,446.5 82.5,444.8 83.7,446.5 82.5,449.5 79.5,451.5 77.8,451"/>
<polygon fill="#FFFFFF" points="44.8,417 46.5,416.8 48,418.5 50.5,419.5 50,421 48,420.3 46,418.8"/>
<polygon fill="#FFFFFF" points="50.5,434.5 52,433.5 54.2,434.2 54,436 52,436.3 50.7,435.6"/>
<polygon fill="#000" points="39.3,429.6 40.4,429.8 40.3,430.8 39.4,430.6"/>
<polygon fill="#FFFFFF" points="40.2,464 42,461.8 44,461 45,461.8 47.8,460.3 47.5,462 45,463 43,463.3 41.5,464.3"/>
<polygon fill="#000" points="15.7,461 17,461 18,462.8 19.4,463.2 18.5,463.8 16.8,462.8"/>
<polygon fill="#000" points="22.6,463 24.5,463.3 26.4,462.6 26.2,463.9 23,464"/>
<polygon fill="#0047AB" points="161,435 162.5,433.2 164.4,432.3 164,433.4 162,435.2"/>
<polygon fill="#0047AB" points="168.2,431 170,429.3 173.5,429 174.7,430.5 174.2,433.5 172,434.7 169.5,434 168.3,432.5"/>
<polygon fill="#0047AB" points="188.4,439 190,438.2 192,437 193.5,437.5 194.3,440 196.6,442 196,443.7 193.5,443 191,443 189.5,441.3"/>
<polygon fill="#0047AB" points="201.9,444.6 204,444 208,444.2 209.75,445 209.5,446 206,445.8 202.5,445.8"/>
<polygon fill="#0047AB" points="205.3,449.5 206.5,448.4 208.2,449 208.4,450.8 207,451.6 205.6,450.8"/>
<polygon fill="#0047AB" points="210.3,447.5 212,446.9 213.5,448.5 216,448.3 219,449.5 220.6,451 219.5,453 217,454 214.5,453 213,450.5 211,449.3"/>
<polygon fill="#0047AB" points="222.5,458.5 226,460.2 229.5,462 233,464.5 236.6,468.5 235,470.5 231,472.5 227.5,475.5 225.5,477.8 222.8,476.8 221.5,473 220.3,468 218.8,465.5 220.5,462"/>
<polygon fill="#FFFFE1" points="67.5,45 71,44 71.8,48 71.4,51.3 69.3,53 68.5,56.3 67.25,60.1 64.75,61.3 62.7,63 59.3,63 58.5,60.9 60.2,57.2 63.5,54.7 66,52.2 66.8,47.6"/>
<polygon fill="#FFBFBF" points="67.8,49.5 69.6,49.5 68.6,53 67.2,57 65.6,59.3 62.2,60 61.6,58.6 64.5,56.2 66.6,52.8"/>
<polygon fill="#000" points="68.3,43.8 70.3,43.3 71.2,47.5 70.6,50.6 69,51.6 68.2,48"/>
<polygon fill="#000" points="64,39.8 65,39.6 66,42 65.3,42.7 64.3,41.2"/>
<polygon fill="#000" points="416,87.8 419,85.5 422.5,84 422.7,84.8 419.5,86.8 416.4,88.5"/>
<polygon fill="#000" points="37.5,269.5 40,269.3 42,270.3 45,270 45,271 41,271.3 37.6,270.6"/>
<polygon fill="#000" points="55.6,283 57,283.5 57.3,285 56,284.6"/>
<polygon fill="#000" points="53,289.5 54,289.8 55,292.3 54,292.2"/>
<polygon fill="#000" points="633,153.6 634.5,153 636,153.6 635.5,154.8 633.3,154.7"/>
<polygon fill="#000" points="640.6,153 642,152.5 642.8,153.8 641,154"/>
<polygon fill="#FFFFE1" points="420,365 422,363.3 425.5,363 427.5,364.5 427,367 424,368 421,367.3"/>
<polygon fill="#000" points="133,446 136.5,446 137,448 134.5,450.5 132,450"/>
<polyline fill="none" stroke-width="1" stroke-linecap="round" points="118.5,434.5 123,437.5 128,442 133,446"/>
<polyline fill="none" stroke-width="1" stroke-linecap="round" points="118.98,436.1 123,439.1 128,443.6 133,447.28"/>
<polyline fill="none" stroke-width="1" stroke-linecap="round" points="119.46,437.7 123,440.7 128,445.2 133,448.56"/>
<polyline fill="none" stroke-width="1" stroke-linecap="round" points="119,436 121,440 125,443 127,446 131,449.5 134,448"/>
<polyline fill="none" stroke-width="1" stroke-linecap="round" points="120,434.5 125,439 130,443.5 135.5,446"/>
<polyline fill="none" stroke-width="1" stroke-linecap="round" points="79,450 82,447"/>
<polyline fill="none" stroke-width="1" stroke-linecap="round" points="52.5,459.3 57,457 63,455 69,451.5"/>
<polyline fill="none" stroke-width="1.2" stroke-linecap="round" points="25,202 27,200.5 29,199.5 31,201.5 34,201.6 37,202"/>
<polyline fill="none" stroke-width="1.2" stroke-linecap="round" points="27,201 26.2,204 27.2,207 28,210.5"/>
<polyline fill="none" stroke-width="1.2" stroke-linecap="round" points="590.3,242.6 594,248.3 598.5,253.3 600.4,259 597.9,263.4 594.7,265.3"/>
<polyline fill="none" stroke-width="1" stroke-linecap="round" points="593,267.5 591.5,271.5"/>
<polyline fill="none" stroke-width="1.6" stroke-linecap="round" points="634.5,146.4 637,147.6 640.8,146.4 640.4,142.6 637.6,141.3"/>
<polyline fill="none" stroke-width="1.2" stroke-linecap="round" points="576.6,223.4 573.5,221.5 571.5,220.5"/>
<polyline fill="none" stroke-width="1.2" stroke-linecap="round" points="578.5,229.7 575,227.5 572,226"/>
<polyline fill="none" stroke-width="1.2" stroke-linecap="round" points="579.7,234.2 576.5,233 574,231"/>
<polyline fill="none" stroke-width="1.2" stroke-linecap="round" points="582.9,238.6 579,238 576,236.5"/>
<polyline fill="none" stroke-width="1.2" stroke-linecap="round" points="582.7,252.7 580.2,250 579.5,247.7"/>
<polyline fill="none" stroke-width="1.2" stroke-linecap="round" points="585.9,262.8 583,262 580.9,261.5"/>
<polyline fill="none" stroke-width="1.2" stroke-linecap="round" points="586.5,268.5 584,268.8 581.5,268.5"/>
<polyline fill="none" stroke-width="1" stroke-linecap="round" points="322.5,412.5 323.5,418 325,426 324.8,433"/>
<polyline fill="none" stroke-width="1.2" stroke-linecap="round" points="327,405 324.5,403.5 323.5,401"/>
<polyline fill="none" stroke-width="1.2" stroke-linecap="round" points="329,401.5 327.8,399 329.5,397.5"/>
<polyline fill="none" stroke-width="1.2" stroke-linecap="round" points="332.5,397.5 331,395.5 332,393.5"/>
<polyline fill="none" stroke-width="1.2" stroke-linecap="round" points="336.5,394.5 335,392.5"/>
<polyline fill="none" stroke-width="1.2" stroke-linecap="round" points="340,392.5 340.5,390 338.5,389"/>
<polyline fill="none" stroke-width="1.2" stroke-linecap="round" points="322.5,411 320.5,410 320,407.5"/>
<polyline fill="none" stroke-width="1.2" stroke-linecap="round" points="345,390 344.5,388"/>
<polyline fill="none" stroke-width="1.2" stroke-linecap="round" points="525,388.75 528,386.2 529.2,389 527.5,391.5"/>
<polyline fill="none" stroke-width="1.2" stroke-linecap="round" points="538.75,410 541,407.5 541.8,410.5"/>
<polyline fill="none" stroke-width="1.4" stroke-linecap="round" points="551.5,374.5 554.3,375.8 555,379 553.6,378.3"/>
<polyline fill="none" stroke-width="1" stroke-linecap="round" points="563.75,430 565.5,428 566.3,424.5"/>
<polyline fill="none" stroke-width="1.2" stroke-linecap="round" points="560,301.5 557.5,299.5"/>
<polyline fill="none" stroke-width="1.2" stroke-linecap="round" points="556,306.5 553.5,304.5"/>
<polyline fill="none" stroke-width="1.2" stroke-linecap="round" points="552.5,311.5 549.8,309.5"/>
<polyline fill="none" stroke-width="1.2" stroke-linecap="round" points="548.5,315 546,312.8"/>
<polyline fill="none" stroke-width="1.2" stroke-linecap="round" points="545,317.75 542.5,315.5"/>
<polyline fill="none" stroke-width="1.2" stroke-linecap="round" points="538.8,329 536.3,328"/>
<polyline fill="none" stroke-width="1.2" stroke-linecap="round" points="537.5,334 535,333.5"/>
<polyline fill="none" stroke-width="1.2" stroke-linecap="round" points="537.2,339.5 535,339.5"/>
<polyline fill="none" stroke-width="1.3" stroke-linecap="round" points="430,380 431.5,377 433.5,379.5 436,381.5"/>
<polyline fill="none" stroke-width="1.2" stroke-linecap="round" points="400,373.75 399.5,371 402,372"/>
<polyline fill="none" stroke-width="1.2" stroke-linecap="round" points="412.5,381.25 413.5,378.5 416,379.5"/>
<polyline fill="none" stroke-width="1.2" stroke-linecap="round" points="423.75,376.25 425.5,373.5 428,375"/>
<polyline fill="none" stroke-width="1.2" stroke-linecap="round" points="359.5,376.25 358.5,373.8 360.5,373"/>
<polyline fill="none" stroke-width="1.3" stroke-linecap="round" points="639.4,108.9 636.5,110 634.8,112.5"/>
<polyline fill="none" stroke-width="1.3" stroke-linecap="round" points="647,102.6 645.3,99.8"/>
<polyline fill="none" stroke-width="1.3" stroke-linecap="round" points="643,100.1 644.5,97"/>
<polyline fill="none" stroke-width="1.2" stroke-linecap="round" points="631.9,114.6 629.8,113.5"/>
<polyline fill="none" stroke-width="1.3" stroke-linecap="round" points="118.5,435.5 122,438.5 126,442.5 130,446 133.5,449.5"/>
<polyline fill="none" stroke-width="1.3" stroke-linecap="round" points="121,435 126,439.5 131,444 136,447"/>
<polyline fill="none" stroke-width="1.2" stroke-linecap="round" points="119.5,438.5 123,442 127,445.5 130.5,449.5"/>
<polyline fill="none" stroke-width="1.2" stroke-linecap="round" points="124,437 129,441.5 133.5,444.5"/>
<polyline fill="none" stroke-width="1.3" stroke-linecap="round" points="88.5,431.3 86,435 84,439 85.5,440"/>
<polyline fill="none" stroke-width="1.2" stroke-linecap="round" points="90.5,437 92.5,434.5 94,436"/>
<polyline fill="none" stroke-width="1.2" stroke-linecap="round" points="96,432.8 97,435.2"/>
<polyline fill="none" stroke-width="1.3" stroke-linecap="round" points="52.2,459 56.6,458.4 62.9,456.5 69.2,453.4 74.2,448.3"/>
<polyline fill="none" stroke-width="1.4" stroke-linecap="round" points="46.6,60 49.5,61.2 47.2,62.6"/>
<polyline fill="none" stroke-width="1.4" stroke-linecap="round" points="45.7,65 47.6,66 46,67.8"/>
<polyline fill="none" stroke-width="1.3" stroke-linecap="round" points="47.25,38.4 46.5,42.2 46.9,46.3 48.1,51.3 48.5,55.5"/>
</g>
</g>
<!-- inset boxes -->
<rect x="12" y="375" width="132" height="115" fill="none" stroke="#000" stroke-width="2"/>
<rect x="157" y="416.5" width="85" height="69.5" fill="none" stroke="#000" stroke-width="2"/>
<!-- legend -->
<rect x="402" y="421.4" width="108" height="1.4" fill="#000"/>
<g stroke="#000" stroke-width="1">
<rect x="402.5" y="425.5" width="23" height="11.5" fill="#A80000"/>
<rect x="402.5" y="439.9" width="23" height="11.5" fill="#FFBFBF"/>
<rect x="402.5" y="454.3" width="23" height="11.5" fill="#FFFFFF"/>
<rect x="402.5" y="468.7" width="23" height="11.5" fill="#E3E3FF"/>
<rect x="402.5" y="483.1" width="23" height="11.5" fill="#0047AB"/>
</g>
</svg>
<div class="lg" style="left:402.2px;top:402.5px;font-size:13.8px;line-height:13.8px;">Percentages</div>
<div class="lg" style="left:430.4px;top:425.1px;">3.31 - 4.19</div>
<div class="lg" style="left:430.4px;top:439.5px;">3.06 - 3.30</div>
<div class="lg" style="left:430.4px;top:453.9px;">2.83 - 3.05</div>
<div class="lg" style="left:430.4px;top:468.3px;">2.45 - 2.82</div>
<div class="lg" style="left:430.4px;top:482.7px;">2.04 - 2.44</div>
</body></html>
